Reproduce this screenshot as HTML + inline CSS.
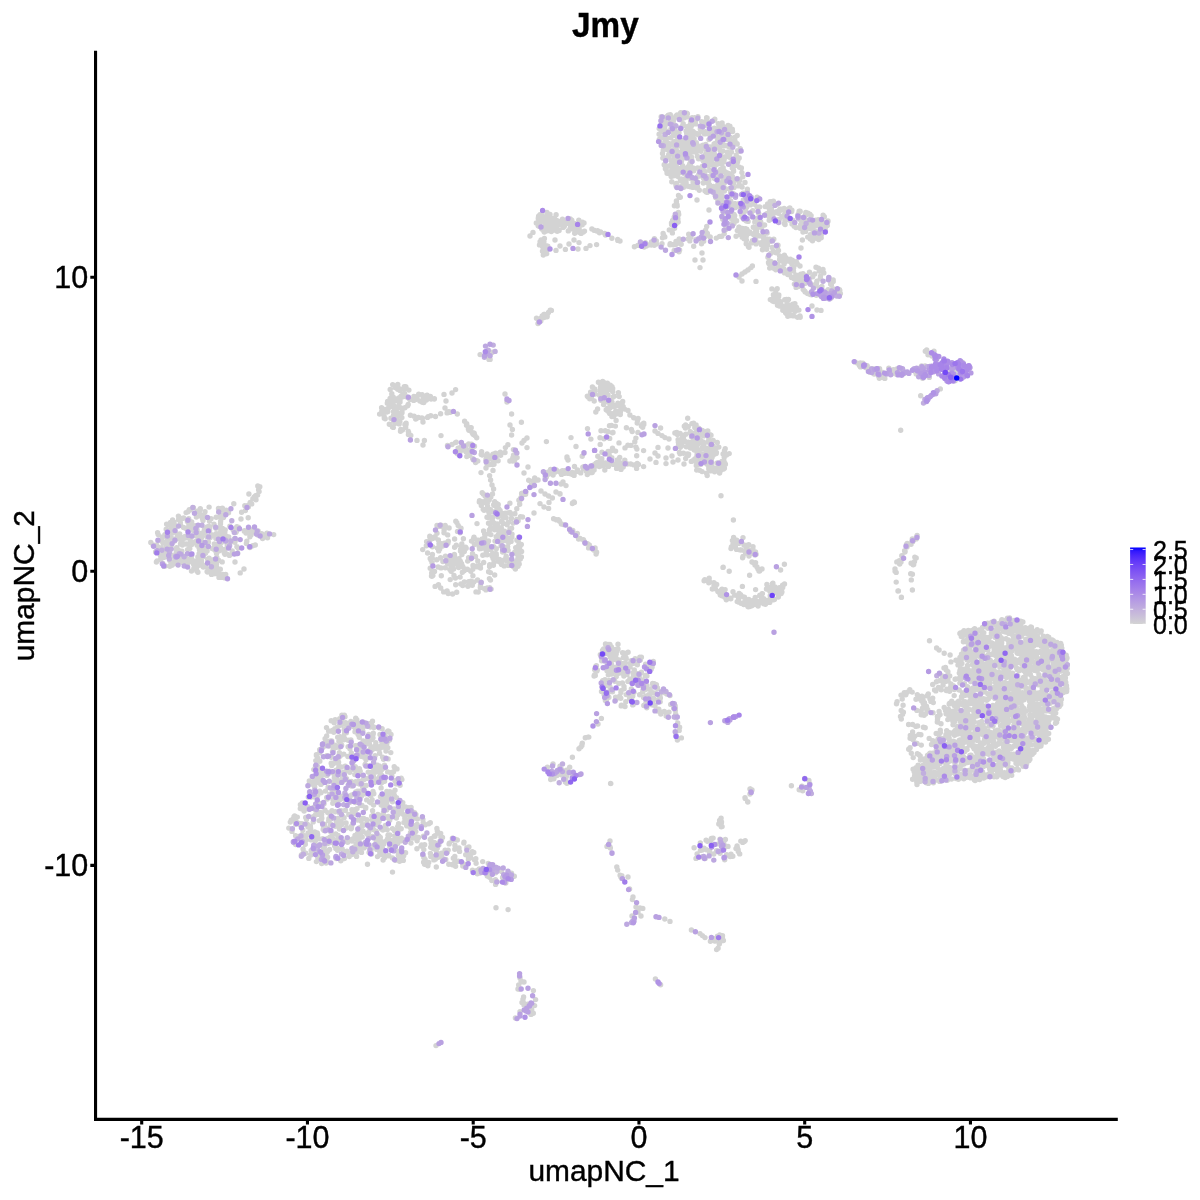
<!DOCTYPE html>
<html><head><meta charset="utf-8"><title>Jmy</title>
<style>html,body{margin:0;padding:0;background:#fff}svg{display:block}text{font-family:"Liberation Sans",sans-serif;fill:#000;stroke:#000;stroke-width:.4px}</style>
</head><body>
<svg width="1200" height="1200" viewBox="0 0 1200 1200">
<rect width="1200" height="1200" fill="#fff"/>
<g fill="none" stroke-width="5.40" stroke-linecap="round">
<path d="M1024.3 729.8h0M448.2 593.5h0M696.3 465.5h0M322.8 845.8h0M679.9 447.1h0M1023.5 695.9h0M205.4 550.7h0M398 831.1h0M397.7 826.6h0M438.4 539.9h0M810.1 238.3h0M963.4 759.5h0M725.3 156.7h0M337.7 737.2h0M461.1 449.1h0M707.4 841.3h0M205 549.1h0M1013.9 758.1h0M220.3 569.2h0M401.2 778.1h0M621.3 666.1h0M968.3 630.4h0M920.9 734.7h0M705.8 144.5h0M496 907.7h0M348.1 746.7h0M907 546.9h0M591.9 228.9h0M664.9 165.6h0M611.3 388.6h0M587.5 543.8h0M359.3 828h0M347.7 842.3h0M873.6 369h0M679 251.8h0M932.6 753.1h0M714.1 143.9h0M372.6 810.7h0M973.5 740.3h0M910.1 747.7h0M1027 761.1h0M467.2 847.6h0M398.3 855.3h0M617.2 459.9h0M345.1 799.6h0M1047.1 651.4h0M816.4 283.4h0M711.8 465.4h0M479.2 546.5h0M691.3 167.5h0M974.2 678h0M472.8 852.8h0M948.6 373.5h0M171.4 555.3h0M714 584.9h0M1001.7 640.9h0M430.7 847.2h0M359.4 774.4h0M1017.6 728.4h0M179.5 539.1h0M434.4 398.7h0M519 553.1h0M1025.1 652.7h0M424.2 399.2h0M700.1 146.3h0M1017.8 722.8h0M943.5 761.4h0M686.7 133.5h0M1014 734.2h0M389.7 820.2h0M485.8 547.1h0M517.3 560.8h0M994.9 633.3h0M982.2 712.5h0M721.1 465.7h0M791.9 210.2h0M321.4 768.9h0M1047.5 675h0M387.8 747.7h0M704.5 462.3h0M1000.3 735.2h0M724.6 180h0M935.8 757.5h0M789 269.9h0M975.8 668.2h0M722.1 162.8h0M180.3 518.9h0M564.5 225.6h0M1047.6 637.9h0M449.4 843.1h0M407.2 814.5h0M960.3 760.4h0M343.2 781.1h0M612.7 388.5h0M816.3 295.2h0M674.8 173.4h0M1040.1 732.5h0M811.6 225.4h0M484.6 533.8h0M1037.2 660.1h0M734.8 165.8h0M991.4 747.4h0M733 544.2h0M464 447.5h0M492.4 352.3h0M1058.6 688.6h0M925.2 727.7h0M341.7 745.1h0M740.6 203.6h0M665 437.6h0M697.4 444.7h0M374.6 847.4h0M810.1 223.8h0M372.2 826h0M1038.9 674.7h0M991 654.5h0M902.6 714.2h0M1046.9 648.3h0M929.2 774.4h0M1058.5 666.8h0M546 230h0M987 638.4h0M360.2 728.2h0M399.2 423.9h0M1036.7 743.7h0M1028.6 660.4h0M1058.6 650.4h0M767.8 215.5h0M437.4 548h0M1015.9 707.1h0M748.1 221.4h0M466.9 425.1h0M899.7 564.1h0M974.4 711.6h0M954.2 695.6h0M383.1 745.3h0M330.9 831.9h0M736 848.6h0M507.9 444.7h0M993.9 630.4h0M980.3 663.3h0M163.4 564.4h0M421.7 845h0M993.5 690.8h0M1003.2 649h0M1016.5 687.1h0M955 765.6h0M311.6 784h0M1035.4 729.2h0M710.2 236.9h0M457 561.4h0M295.6 835.7h0M716.4 452.4h0M723.1 126.4h0M450.2 579.6h0M212.9 567.5h0M899.6 561h0M361.5 852.4h0M632 916h0M974.7 657.1h0M740.1 549.9h0M665.1 132.2h0M203.1 556.8h0M362.8 730.9h0M608 395h0M916.2 558h0M386.3 794.8h0M815.6 285.4h0M504.2 565.9h0M965.3 738.4h0M400.4 413.4h0M730.1 856.6h0M790.7 315.6h0M1064.4 689.3h0M1020.9 622.8h0M359.6 724.6h0M721.3 184.2h0M624.7 653.2h0M379.2 746.7h0M963.6 631.7h0M840.4 293.6h0M394.1 809h0M1026.4 751.4h0M713.2 455.3h0M961.3 668.8h0M585.8 543.5h0M979.3 697.3h0M215.9 528.3h0M594.2 401h0M1016.3 769.1h0M249.1 529.7h0M1022.1 750.9h0M723.2 201.6h0M572.4 757.2h0M699.1 857.2h0M979.1 708.1h0M247.4 506h0M197.4 564.1h0M586.1 471.1h0M501.6 521.5h0M1010.8 678h0M561.3 222.5h0M489.1 513h0M748.1 245.3h0M664.4 157.7h0M766.9 584.5h0M531.7 1010h0M189.3 509.7h0M773.1 214.1h0M1055.5 723.3h0M769.9 591.2h0M1036.5 710.6h0M401.1 802.8h0M435.1 586.4h0M674.2 250.5h0M354.4 783.7h0M428.4 397.4h0M913.2 564.8h0M937.7 743.6h0M292 831.4h0M607 846.4h0M452.7 560.5h0M1049 683.1h0M978.8 637.4h0M1004.9 696.3h0M1029.5 656.9h0M1010.9 740.2h0M940.6 774.7h0M912.4 574.2h0M837.3 292.7h0M373.8 793.7h0M1016.2 640.7h0M460.1 532.8h0M1042.3 688.3h0M744.3 841.4h0M689.3 148h0M717.3 442.5h0M504.5 531.2h0M675.2 159.2h0M1022.1 657.7h0M170.7 532.4h0M1043.4 691.1h0M804.8 291.3h0M970.7 640.1h0M824.1 231.1h0M963.4 756.7h0M733.3 183.2h0M487.6 506h0M634.1 692.2h0M677 146.5h0M697.7 450.8h0M445 408h0M708.9 147.1h0M969.8 773h0M1025.2 632h0M1026 744.1h0M472.8 433.8h0M538.2 225.7h0M470.4 428.5h0M1046.5 683.3h0M562.1 472.5h0M986.3 712.1h0M456.7 592.3h0M214 563.1h0M606.4 700.2h0M556.8 224.8h0M405.7 386.6h0M489 359.4h0M512.7 461.1h0M355.6 721.5h0M711.4 442.3h0M158.2 534.6h0M1037.4 637.6h0M607.3 663.5h0M456.8 522.6h0M1005.5 649.3h0M961.9 726.8h0M544 507h0M192.1 560.2h0M723.2 138h0M1048.4 723.6h0M720.7 153.6h0M183.6 517.9h0M383 747.1h0M700 267.6h0M1053.1 708.6h0M720.3 595h0M761.2 600.7h0M246.8 541.2h0M958.1 705.6h0M865.4 366.3h0M203.6 547.1h0M691.5 436.7h0M963.1 632.5h0M373.9 727.5h0M999.5 762h0M1001.3 766.1h0M1007.4 712.3h0M936.3 750.3h0M421.9 417.9h0M686.3 145.3h0M677.5 146.1h0M676 241.5h0M314.6 808.9h0M1005.4 758.6h0M365.3 793.5h0M199.9 515.2h0M472.3 585.2h0M356.5 848.6h0M1033.9 652.1h0M1008.5 749.5h0M570.1 229.1h0M994.3 696.6h0M326.9 775.4h0M698.8 133.7h0M954.2 715.9h0M772.3 593.2h0M1024.4 738.4h0M257.8 534.8h0M521.4 556.9h0M604.1 694.4h0M997.4 732h0M766.5 589h0M927.3 765.7h0M711.5 136.4h0M716.7 163.6h0M611.5 425.4h0M1016.3 691.3h0M680.6 154.4h0M690.3 150.7h0M1006.8 745.6h0M1063.5 656.2h0M791.7 211.5h0M668.7 154.7h0M1031.9 700h0M1004.4 731.2h0M523 999.2h0M1004.4 699.8h0M1025.7 757h0M662 243.8h0M705.6 230.3h0M1052.9 661.5h0M781.9 591.9h0M1030.8 643.1h0M700.2 239.2h0M418.4 417.4h0M369.6 802.1h0M711.8 135.6h0M703.7 434.5h0M972.6 688.3h0M1023.5 665.1h0M666.8 171.1h0M578.8 220.2h0M1042.8 697.5h0M953.3 365.1h0M668.1 147.1h0M1005.1 626h0M360.6 805.2h0M545.2 226.4h0M652.6 683.4h0M1034 752.5h0M714 120.2h0M978.1 756.8h0M334.5 776.6h0M773.7 599.8h0M989.1 712.9h0M394.8 423.6h0M651.3 664.3h0M384 795.8h0M385.2 418.7h0M1033.7 690.9h0M693.2 178.4h0M450.4 412.3h0M588.6 547.9h0M860.4 363h0M970.8 692.1h0M696.3 144.7h0M313.8 848.7h0M1022.7 679.3h0M780.6 570h0M1061.1 671.1h0M220.2 532.1h0M996.8 767.4h0M295.7 824.3h0M482.9 869.4h0M944 364.8h0M610.3 646.4h0M411.6 815.9h0M658.3 699.7h0M1034.9 709.5h0M1043.8 697h0M755 565h0M1034.1 695.3h0M724.9 463.3h0M505.8 883h0M582 744.1h0M352.7 813.1h0M225.2 530h0M1015.5 700.3h0M721.9 191.8h0M344.1 817.8h0M1032.1 677.8h0M670.7 704.4h0M862.4 364.9h0M163.6 553.4h0M717.9 200.3h0M1040.8 735.6h0M687.2 453.9h0M305.8 853.2h0M383 852.9h0M394.2 766.7h0M683.7 117.5h0M934.6 690h0M929.2 738.4h0M325.6 843.7h0M963.5 651.2h0M599.9 390.7h0M693.6 423.1h0M414.1 416.3h0M1052.1 655.5h0M189.9 561.4h0M1055.7 713h0M195 568.3h0M327.6 857.2h0M742.2 217.2h0M1013.6 770.2h0M803 232h0M1042.4 660h0M506.7 875h0M769.7 602.4h0M490.5 580.1h0M687 176.6h0M978.7 729.9h0M199 555.8h0M1029.3 659.1h0M692.5 139.6h0M353 759.8h0M1051.6 641.5h0M943.1 685h0M705.7 461.9h0M340.3 755.7h0M687.3 153.6h0M241 519h0M970.4 691.8h0M725.1 589.6h0M632.8 680.3h0M593.2 548.6h0M207.5 572h0M519.2 564h0M589.7 398.7h0M996.3 678.4h0M662 435.6h0M1043.7 725.1h0M706.6 152.4h0M760.4 222.1h0M1027.5 634.1h0M339.4 754.5h0M320.9 857.8h0M816 267.2h0M564.2 470.8h0M521.4 422.2h0M983.4 698.6h0M534 513h0M977.4 653.9h0M557 775.6h0M700.6 453.7h0M309.5 792.5h0M216.1 533.6h0M1005.1 740.1h0M785.1 224.5h0M344.7 775.9h0M969.7 368.1h0M652.6 662.5h0M477.8 561h0M633.5 675.3h0M681.5 161.3h0M496.5 525.7h0M716.3 132.3h0M1026.5 725h0M381.6 407.7h0M438.2 547.6h0M372 738.9h0M621.9 877.6h0M624 686.4h0M378.3 817h0M827.3 225.4h0M1012.7 659.1h0M810.2 223.4h0M394.3 795.2h0M517.1 457.6h0M1050.3 703.3h0M920.4 781.1h0M676.4 202h0M944 680.4h0M227.8 536.9h0M373 791.4h0M614.1 396.3h0M759.5 603.1h0M944.3 773.7h0M814.7 273.9h0M681.9 151.5h0M723.4 144.4h0M977.6 737.5h0M890.6 372.7h0M752.4 600.6h0M786 257.6h0M984.4 750.9h0M321.5 855.8h0M1027.8 761.1h0M416.5 418.4h0M784.1 309.3h0M328.6 731h0M167.7 537.5h0M365.6 726h0M913.4 540.4h0M1024.6 758.9h0M801.4 276h0M391.8 393.8h0M655 453h0M999.3 644.7h0M974.8 779.6h0M693.9 184.8h0M432.9 575.6h0M653.6 698.4h0M619.2 396.6h0M956.3 707.6h0M497.4 455h0M773.6 251.5h0M997.6 645.5h0M977.3 638.8h0M682.9 171.8h0M943.1 768.8h0M373.8 829.8h0M511.9 537.3h0M971.3 740.6h0M1018.1 702.9h0M1018 711.8h0M709.6 581.7h0M435 836.2h0M1007.2 711.6h0M724.8 593.6h0M734.3 217.5h0M974.3 709.1h0M1046.5 640.4h0M956.7 776h0M645.2 687.9h0M661.1 131.9h0M342.4 815.9h0M928.3 693.9h0M927 760.2h0M796.6 307.4h0M458.6 449.7h0M411 809.4h0M616.3 463.5h0M627.9 681.4h0M436.8 559.8h0M324.3 743.2h0M604.7 387.2h0M487.1 453.9h0M379.3 766h0M491.9 521.5h0M457.5 453.7h0M1044.7 670.8h0M913.7 564.4h0M615.2 658.8h0M770.4 212.4h0M784.1 208.4h0M677.1 140.9h0M988.8 754.3h0M546.8 475h0M920.4 760h0M996.6 715h0M431 560h0M732.7 178h0M995.4 736.5h0M930.8 763.1h0M447.3 852.3h0M476.1 863.2h0M424.7 844.8h0M820 226.7h0M355.2 725.6h0M1056.8 696.9h0M218.6 560.3h0M687.4 113.8h0M399.1 856.4h0M999 682.2h0M457.3 414h0M1015.4 756.4h0M986 776.4h0M366.7 740.7h0M973.8 638.9h0M714.7 941.1h0M341.7 720.9h0M674.9 163.8h0M965 701.8h0M671.8 181.8h0M333 799.4h0M760.8 221.9h0M1007.9 774h0M981.7 660.2h0M977.4 750.8h0M208.7 526.2h0M1029.4 724.9h0M937.5 754.7h0M424.6 864.2h0M1008.6 737.4h0M309.3 781h0M419.9 401.1h0M694.8 146.7h0M484.1 871.3h0M361 833.4h0M390.9 418.3h0M1040.6 728.4h0M611.4 646.9h0M499.5 559.4h0M358.1 845.7h0M482.7 502.4h0M929.3 377.4h0M339.7 820.9h0M974.9 728.8h0M833.7 295.1h0M665.5 135.7h0M411.1 807.5h0M891.4 372h0M949.1 759.6h0M925.5 714h0M1018.4 683.5h0M1054.7 643.3h0M300.3 808.6h0M533.3 480.8h0M488.8 533.7h0M1028.2 692.5h0M188.4 531.3h0M441.5 840.6h0M175.7 563h0M660.5 126.8h0M337.2 774.1h0M988 628.2h0M691.2 149.9h0M720.4 176.4h0M544.4 238.5h0M382.4 412.8h0M765.7 601.3h0M669.9 153.5h0M550.2 310.2h0M208.5 542.1h0M1020.7 650.6h0M545.7 477.2h0M1037 714.4h0M964 764.1h0M810.1 282.9h0M704.5 460h0M1028.8 724.7h0M494 464.2h0M614.9 681.3h0M964.6 669.3h0M483.5 494.3h0M678.3 442h0M397 415h0M717.4 197.3h0M910.7 573.8h0M458.9 567.1h0M547.4 228.3h0M664.3 711.4h0M642.7 692.1h0M833.2 279.9h0M659.1 134.3h0M956.1 778.6h0M708.6 150.3h0M607.4 383.1h0M688.5 166.5h0M451.1 571.3h0M778.6 300.6h0M688.9 186.4h0M361.6 818.5h0M461.6 563.6h0M1029.6 636.5h0M996.8 721.7h0M1001.9 619.7h0M651.4 245h0M937.4 743.3h0M995 637.2h0M1010.5 641.5h0M1006.7 707.9h0M194 561.9h0M681.1 186.5h0M1045.1 649h0M945.6 756.3h0M174 522.2h0M981 754.2h0M623.4 657.5h0M641.4 244.9h0M631.2 660.8h0M785.9 307.6h0M487.2 588h0M341.8 796.2h0M956.4 749.2h0M772.5 267.5h0M948 680.2h0M219.2 542.3h0M601.8 399.7h0M691.6 146.5h0M1028.1 628.9h0M968.6 770.4h0M690.5 140h0M719.3 944h0M781.9 216.7h0M538.6 216.1h0M379.1 821.4h0M821.2 235.2h0M1037.7 679.1h0M708.8 187.8h0M696.1 239.5h0M462.7 585.5h0M811.1 215.6h0M922.2 775.8h0M552.4 498h0M559.9 222.8h0M627.4 464h0M216.5 553.5h0M518.1 520.8h0M647 685.4h0M225.7 574.5h0M1025.7 762.7h0M823.1 215.2h0M754.2 604.5h0M746.8 229.2h0M1013.4 684h0M501.6 871.4h0M366 759.7h0M518.5 549.7h0M963.6 726.8h0M229.4 555.4h0M492.3 554.4h0M719.3 188.5h0M715.3 156.3h0M1024.1 708.7h0M682.3 168.8h0M955.1 366.3h0M194.2 542.3h0M667.3 713.8h0M699 435.7h0M759 571h0M937.5 719.4h0M929.3 766.3h0M985.9 685.9h0M1005.5 716.3h0M733.9 158.9h0M729 216.1h0M1052 655.2h0M1031.3 744.7h0M953.2 754.5h0M774.9 212.8h0M1052.2 639.9h0M812.6 222.5h0M992 670.2h0M966.7 678.3h0M327.2 861.5h0M967.1 749.6h0M561.5 769.5h0M1019.1 692.3h0M571 437.6h0M235.5 540.1h0M978.4 771h0M540 214.8h0M503.5 517.9h0M1058.6 643.5h0M1034.2 704h0M769.6 239.2h0M412.3 834.5h0M972.2 638.2h0M1057.5 681.3h0M158.7 548.4h0M197.8 563.5h0M349 800.9h0M543.3 255.1h0M211.6 570h0M950.6 687h0M1035 714.9h0M1024.1 760.1h0M370.7 748.5h0M690.1 167.2h0M1002.1 731.9h0M735 164.7h0M1059 658.2h0M377.9 814.5h0M590 245.6h0M1010.1 660.1h0M663.2 150.3h0M805.4 214.8h0M556.3 470h0M715 143.5h0M968 724.9h0M907.2 543.5h0M1020.8 730.6h0M742.8 176.7h0M1054.5 686.2h0M314 807.1h0M933.7 777.5h0M177.2 534.1h0M972.2 689.4h0M1019.8 622.4h0M398.6 823.7h0M350.9 739.9h0M379 749.2h0M423.1 397h0M495.5 879.8h0M489.6 877.2h0M579.7 232.4h0M469 450h0M1059.9 688.4h0M748.7 544.8h0M325.1 738.8h0M1038.1 684.8h0M710.3 163h0M1031.6 685.2h0M1063.1 676.5h0M447.1 412.9h0M721.4 823.1h0M992.4 696.8h0M704 122.2h0M681.1 439.9h0M778.3 213.3h0M343.7 841.6h0M996.6 696.8h0M310.6 832.5h0M596.6 552.3h0M490.6 480h0M615.7 411.3h0M712.3 589h0M1012.7 693.5h0M785.6 312.8h0M733.4 520h0M733.3 223.3h0M1030.2 663.3h0M387.7 771.9h0M761.6 596.2h0M976.4 671.6h0M566.5 770.2h0M384.7 799.2h0M1006.4 677.6h0M674 149.9h0M901.4 597.2h0M719.8 147h0M758.2 197.9h0M745.7 230.1h0M516.7 519.5h0M386.5 742.4h0M385.5 737h0M988 714.9h0M604.2 382.7h0M470.8 571.3h0M1030 631.4h0M1046.6 658.3h0M444.2 529h0M428.7 862.5h0M1017.8 635.2h0M677.1 205h0M1020.6 720.2h0M803 273.6h0M999.9 760.4h0M150.8 542.5h0M976.2 673.5h0M745.5 211h0M957 706.1h0M689.5 239.1h0M1016.6 744.1h0M571 437.6h0M327.7 851.6h0M694.6 148.2h0M491.4 874.7h0M1028.1 757.1h0M999.3 774.2h0M341.7 796.6h0M997.5 769.3h0M357.4 848.9h0M441 435.6h0M356.2 755.9h0M721.5 822h0M819.2 231.7h0M959.2 690h0M968.6 657.6h0M777.8 264.8h0M1025 753.4h0M310.6 797.2h0M671.9 176.3h0M707.4 164.9h0M953.9 711h0M637.6 673.8h0M729 146.8h0M725.4 464.2h0M704.9 190.7h0M338.8 774.3h0M1058.9 657.6h0M751.4 242.9h0M762.8 243.8h0M940.9 758.1h0M609.2 680.4h0M950.9 661.9h0M908.6 724.5h0M395.1 413.4h0M716.3 238.1h0M971.8 653.7h0M666.1 137.2h0M682.6 181.6h0M979.6 683.5h0M1045.6 742h0M702.6 442.2h0M179.7 534h0M625.8 657.2h0M991.2 675.2h0M989.3 735.5h0M1002 705h0M302.3 803h0M963.9 776.6h0M707.1 118h0M155.8 551.7h0M221.6 531.2h0M798.2 283h0M703.7 454.5h0M680.3 447.3h0M739.6 231.2h0M507.2 874.2h0M911.1 544.3h0M694.2 144.2h0M1051.4 677.9h0M167.9 556.7h0M701.5 243.7h0M672 169.9h0M963.1 675.2h0M730.8 142.7h0M605.2 695.9h0M371.6 748.3h0M737.2 601.6h0M607.7 693.8h0M400.8 416.3h0M375.1 755.7h0M488.3 863.5h0M381.4 770.1h0M495.4 526h0M337.3 770.8h0M1018.5 769.9h0M710.4 188.3h0M170.4 537.2h0M710.8 461.6h0M668.8 157h0M946.6 757.2h0M1016.9 625h0M605.5 235h0M993.9 630.4h0M628.1 652.3h0M432.4 554.5h0M731.2 195.4h0M388.8 839.1h0M1007.7 761h0M1041.5 693.9h0M1033.6 667.5h0M978.7 775.2h0M782.8 310.3h0M1009.2 774.1h0M468.1 854.5h0M681.7 442.6h0M795.9 227.5h0M1033.5 646.2h0M664.8 919h0M977 755.5h0M380.5 769.7h0M963.9 711.1h0M667.2 143.5h0M917.3 753.7h0M176.2 552.7h0M914.7 736.3h0M703.1 169.5h0M830.7 290.8h0M1011.8 686.8h0M670.5 144.2h0M400 400.2h0M594.7 674.6h0M674.3 128.8h0M989.6 637.3h0M964.3 723.7h0M708.3 133.9h0M711.4 465.6h0M1009.2 720.8h0M522 1002.4h0M800.2 211.6h0M955.8 742.1h0M984.4 764h0M1058 695.2h0M946.9 765.7h0M372.1 820.1h0M602.7 381.4h0M725.3 210.3h0M677.1 169.8h0M1030.2 710.3h0M505.4 876.8h0M673.2 175.5h0M500.5 512.2h0M464.3 551.5h0M1036.9 668.6h0M496.3 548.7h0M654.5 693.1h0M397.8 783.9h0M817.3 224.3h0M777.5 247.1h0M974.6 714.7h0M1007.4 776.4h0M1056.3 718.5h0M355.7 781.8h0M382.4 848.3h0M1038.7 716.8h0M994.2 649.2h0M336 770.3h0M642.8 908.4h0M315.8 814.1h0M1034.5 638.2h0M482.2 492.7h0M693 448.3h0M1007.8 763.2h0M1047.2 654.8h0M976.4 674.7h0M1008.8 656.1h0M913.6 738.1h0M1020.6 749.8h0M971.5 696.4h0M1023.6 695.6h0M663 144h0M615.6 697.1h0M168.6 531.1h0M683.2 144.7h0M990.6 763.3h0M504.3 513.5h0M318.9 814.4h0M963.9 640.6h0M703.8 166.2h0M561 221.6h0M970.2 644.9h0M159.5 540.1h0M219.3 550.7h0M438.7 550.9h0M674.2 158h0M938.2 761.8h0M990.4 714.1h0M1026.6 763.7h0M198.4 556.6h0M428.9 823.8h0M969.6 655.2h0M597.3 669.9h0M403.3 860.4h0M1029.1 645.5h0M727.5 139.4h0M920.4 371.9h0M240.2 572.9h0M978.8 649.1h0M522 443h0M321.5 815.9h0M267.5 537.7h0M598.6 464.9h0M709.2 578.2h0M408.9 807.8h0M415.7 419h0M783.8 262.6h0M619.1 660h0M966.5 734h0M602.5 650.4h0M609.7 438.4h0M837.9 294.2h0M659.2 128.6h0M1032.8 643.8h0M377.3 770.3h0M449.1 563h0M695.8 435h0M636 447.1h0M836.5 290.3h0M960.5 721.8h0M700.2 429.5h0M682.9 125h0M995.4 746.2h0M612.1 405h0M1027.5 639.7h0M654.4 238.6h0M604.7 233.4h0M492.5 494h0M753.5 234.6h0M724.4 468.2h0M357.5 731.5h0M941.3 365.2h0M990.5 771.2h0M321.8 818.2h0M484.3 871.2h0M438.1 833h0M363.8 818.4h0M690.6 165.4h0M969.9 755.5h0M355.5 745.6h0M998.9 689.4h0M936.9 758.3h0M188.7 518.8h0M981.7 669.8h0M696.7 470.1h0M810.3 234.7h0M386.5 840.6h0M319.8 838.9h0M673.5 172.4h0M736.6 549.4h0M616.1 405.4h0M913.2 563.9h0M1026.6 749.5h0M623.2 467h0M1066.6 691.6h0M1030.8 626.9h0M236.9 526.6h0M609.2 455h0M1003 735.6h0M170.5 522.5h0M917.5 776.2h0M959.2 732.9h0M618.4 465h0M990.1 706.6h0M694.9 443.1h0M1020 710.3h0M994.3 769.6h0M309.3 784.1h0M205.5 553.3h0M417.1 840.8h0M512.4 429.4h0M699.1 459.4h0M917.3 769.1h0M817.4 294.2h0M724.5 450.6h0M1003.3 673.9h0M538.4 217.6h0M991.9 630.2h0M761.4 598.6h0M455.7 584.8h0M964.5 683.6h0M911.3 753.2h0M344.4 715.2h0M481.3 505.6h0M998.7 731.8h0M484.3 588.6h0M182.7 560h0M795.2 311.2h0M618 648.9h0M338.9 741.3h0M726.3 454.3h0M370.5 727.1h0M155.6 551.9h0M933 712.8h0M423.8 849.6h0M322.6 783h0M869.9 370.5h0M1039.8 711h0M468.4 428.9h0M946.2 670.1h0M968.8 709.1h0M1020.6 659h0M1024 649.2h0M743.4 199.9h0M1030.9 736.3h0M718.8 824h0M782.6 585.2h0M1027.8 747.2h0M1011.4 736h0M343.8 772.2h0M691 135.7h0M563.1 227.4h0M1008.6 661.3h0M948.7 712.4h0M805.8 226.6h0M784.5 308.4h0M1042.4 669.2h0M816.9 281.2h0M1055.3 661.8h0M685.8 434.3h0M493.6 489h0M976.2 702.6h0M717.5 936.1h0M370.2 774.1h0M393.6 405.7h0M266.9 533.2h0M947.3 780.2h0M347.9 756.5h0M367.9 834.7h0M687 116.9h0M872.1 368.7h0M971.9 641h0M731 548.6h0M216.8 557.4h0M489.6 566.5h0M837.4 293h0M987.8 693.7h0M1006.4 657.3h0M997.9 692.3h0M171.9 565.2h0M732.6 131.6h0M962.9 362.6h0M975.1 776h0M988.5 738.3h0M1059.2 647.7h0M774.6 268.8h0M960.3 657.6h0M981.8 750.4h0M930 699.1h0M678.2 222h0M480.3 565.5h0M756.1 241.2h0M966.1 690.9h0M1022.9 729h0M489.4 529.9h0M441 525.2h0M961.8 697.6h0M220.4 547.1h0M938.5 687.5h0M1021.1 750.7h0M561.4 473.8h0M166.9 535.2h0M610.2 407.7h0M1012.6 673.1h0M408.9 390.1h0M478.9 873h0M500.1 510.4h0M389.2 793.8h0M452.6 566.3h0M314.8 831.9h0M1020.1 740.4h0M605.5 643.9h0M720.3 157.7h0M551.5 221.5h0M686.3 446.7h0M542.2 316h0M1021.8 653.2h0M680.3 128.3h0M684.1 435.1h0M356.8 719.7h0M696 118.1h0M1020.3 687h0M376.8 849.4h0M675.9 717.8h0M715.3 941h0M964 630.8h0M320 844.6h0M1034.6 722.5h0M390.1 398.5h0M934 351.3h0M799.7 219.3h0M396.6 813.4h0M1020.7 720.2h0M986.6 774.9h0M343.8 754.1h0M713.2 174h0M992.9 705.5h0M999.3 625.8h0M674.3 135.3h0M544.7 473h0M453.3 561.1h0M994.8 676.1h0M946.8 766.8h0M1043.3 657.2h0M940.1 740.6h0M1023.5 670.5h0M737.3 162.5h0M1018.3 689h0M317.3 832.9h0M1061 664.6h0M1030.5 699.7h0M979.3 749.9h0M563 482h0M1001 644.1h0M1012.6 732.3h0M1023.6 743h0M441 567.9h0M610 847h0M333.8 732.3h0M463.8 843.1h0M456.3 545.2h0M748.5 246.8h0M1012.2 629.8h0M381.4 775h0M235.8 532.4h0M961.8 751.4h0M697.4 449.1h0M402.7 814.1h0M1007.1 713.9h0M705.3 180h0M896.6 369.5h0M1037 679.5h0M475.8 858.7h0M674.9 433h0M430.3 822.7h0M722.3 134.3h0M1036.1 743.7h0M547.9 229h0M337 825.6h0M327.5 741.3h0M642.7 427.3h0M202.6 554.4h0M382.7 841.9h0M371.5 854h0M989.8 675.3h0M978 735.2h0M1064.9 681.7h0M610.6 463.8h0M999.3 752.5h0M487.6 354.6h0M369.4 743.7h0M440.7 588h0M921.6 770.6h0M357.5 729.1h0M333 730.3h0M374 727.1h0M727.4 152.2h0M574.9 225.6h0M987.1 709.8h0M673.5 224.5h0M634 464.9h0M690.7 133.5h0M1035.4 732.1h0M935.2 779.2h0M724.4 145.8h0M362.3 743.7h0M707.3 176.4h0M174.6 541h0M719.6 473.1h0M730.6 192.5h0M673.9 228.2h0M633 897h0M937 774h0M722.2 126.7h0M612 386.7h0M562.1 224.6h0M790.4 308.6h0M684 464h0M259.1 491.6h0M376.9 816.8h0M631.8 700h0M965.4 695.2h0M918.1 765.2h0M901 695.1h0M664.7 127h0M635.9 438.1h0M555.5 230.2h0M770.3 219.6h0M498.1 460.7h0M946.3 763.5h0M763.5 237.7h0M831.4 284.7h0M690.1 169.6h0M922.4 697.2h0M471.5 541.1h0M1003.3 649.3h0M971.7 632.2h0M388 835.2h0M723.1 453.9h0M678.9 172.1h0M796.1 287.4h0M1024.1 724.4h0M745.9 199h0M920.2 756h0M445.1 850.2h0M462.6 863.4h0M335 794.3h0M461.8 543.9h0M965.3 716.1h0M538.3 218.6h0M1022.9 667.2h0M946.1 676.1h0M750.5 233.1h0M759.6 207h0M1026.6 641.5h0M813.6 235.9h0M1040.3 644.3h0M214.3 543.9h0M415.3 836.2h0M1033 723.3h0M331.3 757.3h0M994.1 651.7h0M653.3 661.5h0M432.6 856.4h0M998.8 685.7h0M598.4 382.2h0M1044.8 692.1h0M371 850.6h0M159.7 548.3h0M1054.7 648.6h0M438.5 584.7h0M327.7 812.6h0M812.5 240.7h0M755 554.2h0M993.6 736.6h0M1015.3 727.4h0M297.3 817.1h0M407 825.9h0M393.7 793.9h0M608.3 674.8h0M507 402h0M712.6 131.5h0M1041.2 682.8h0M1056 645.7h0M610.1 404.7h0M997.3 730.1h0M608.1 644.4h0M328.8 820.5h0M1037.7 717.2h0M979.1 689.9h0M1022.2 632.4h0M977.9 774h0M593.7 550.1h0M153.1 545h0M932.7 698.1h0M697.2 440.6h0M377.4 765.3h0M732.3 167.9h0M1019.7 680.4h0M314.5 834.9h0M817.1 238.6h0M974.6 659.1h0M1058.8 662.8h0M474 433.3h0M724 131.7h0M702 434.2h0M670.2 243.8h0M733.5 169.8h0M714.6 471.7h0M1045.7 647.4h0M704.2 147.9h0M1003.9 739h0M560 223.5h0M678.4 133h0M985 708.3h0M262.6 538.5h0M933.4 767.1h0M555 240h0M591.4 397.8h0M724 210.4h0M1064 677.7h0M1042.1 716.8h0M487.7 545.4h0M504.3 515.2h0M319.7 749.7h0M1013 623.6h0M257.8 486h0M320.3 812.4h0M402 412.8h0M1042.6 661.9h0M1004 687.1h0M373.9 845.2h0M997.5 711.1h0M1020.5 697.7h0M435.5 416.5h0M460.9 584h0M346.1 822.9h0M1003.9 670.4h0M1048.1 682.7h0M698.4 455.3h0M1038.4 692.9h0M821.9 286.5h0M413 838h0M958.4 377.4h0M957.4 706.8h0M1050.1 711.2h0M976 663h0M721.7 159.8h0M507.8 541.5h0M474.4 544.4h0M306.5 819.2h0M1008.8 693.6h0M808 213.1h0M962.5 715.6h0M733.6 166.4h0M375.8 742.8h0M954.4 771.2h0M770.9 261.4h0M604 438.8h0M538.1 480h0M449.1 528h0M1035.4 715.8h0M306.3 839.9h0M388.3 816.4h0M987.6 665.9h0M459 558.7h0M349 723.6h0M982.3 728.5h0M394.4 830.5h0M954.3 689.5h0M719.5 128.4h0M359 791.2h0M805.2 292h0M338.1 835.4h0M169.8 560.4h0M1013.3 623.8h0M1054.7 652.1h0M536.3 223h0M678.9 117.4h0M781.2 593.5h0M338.8 769.9h0M611.9 416.6h0M181.9 554.4h0M639.9 244.9h0M1063.5 659.9h0M606.7 651.5h0M473.8 581.9h0M641.4 657.2h0M698.3 134.8h0M747.4 189.3h0M382.7 805.2h0M660.4 697.9h0M498.3 516.9h0M545.3 223.8h0M994.9 698.4h0M740.6 234.7h0M348.1 740.3h0M1026.5 726.4h0M1053.4 677.9h0M626.2 694.6h0M742.1 187.1h0M989.9 693.6h0M320.9 784.4h0M481.9 501.8h0M361.5 791.9h0M1038.5 744.9h0M516.9 560.4h0M993.6 621.4h0M1057.9 667.9h0M584 223h0M730.6 145h0M722.3 182.1h0M971.1 632.8h0M949.8 773.7h0M336.2 796.2h0M372.6 836.4h0M226.7 553.9h0M325 810.2h0M374.4 769.4h0M611.9 238.2h0M201.8 536.6h0M564 772.8h0M216.2 573.5h0M634.4 246.8h0M339.9 781.3h0M680.3 197.2h0M754.8 221.9h0M693.5 141.7h0M690.9 237.2h0M764.6 225h0M709.6 850.9h0M1022.8 709h0M1016.1 745.3h0M637.9 432.4h0M930.1 776.4h0M908.7 749.3h0M643.6 450.6h0M982.9 688.5h0M746.8 604.8h0M566 485.6h0M185.2 564.5h0M426.6 541.6h0M800.8 277.2h0M1016.5 668h0M625.3 671.8h0M963.2 720.3h0M960.8 725.6h0M991.1 761h0M907.2 692.2h0M993.1 746.1h0M629.8 679h0M731.5 152.1h0M1054.7 695.5h0M1062.7 663.8h0M356.1 849.1h0M1036.4 655.3h0M514.7 567h0M1030.6 695.9h0M399 402.9h0M546.9 250.1h0M627.1 674.3h0M645.9 697.9h0M944.7 777.4h0M205 511.8h0M741 603.2h0M691.9 423.6h0M1058.8 662.1h0M822.1 226.2h0M406.1 424.2h0M476.7 437.7h0M249.8 530.2h0M1028.8 755.5h0M332.8 790.9h0M917.7 777.7h0M572.5 776.7h0M1039.9 715.3h0M785.7 218.8h0M964.8 654.7h0M380.5 796.8h0M979.6 779.5h0M814.8 221.4h0M207.1 551.1h0M1005.2 777.6h0M1017.3 759.9h0M717.9 591.5h0M381.7 829.2h0M1005 626.8h0M810.7 235.8h0M992.8 713.2h0M938.1 372.6h0M675.3 710.4h0M352.6 854.3h0M675.9 165h0M556.8 220.5h0M376.9 838.9h0M1053.6 718h0M943.4 777.7h0M695.6 123.9h0M729.7 157.2h0M600.6 466.1h0M383.4 812.5h0M470.9 581.3h0M698.5 158.8h0M1006.2 690.2h0M592.9 467.2h0M801.9 786.3h0M737.1 846h0M411 843.1h0M952.6 756.6h0M493 454.3h0M313.2 821.9h0M328.7 820.8h0M943.9 778.8h0M546.2 476.4h0M549.4 473h0M724.2 233.6h0M1032.7 693.4h0M487.8 496.8h0M596.1 463.3h0M496 868.8h0M363.1 831.3h0M715.2 195.4h0M968 771.6h0M1052.1 657.1h0M480.1 354.6h0M1036.2 638.1h0M746 550h0M225.1 540.7h0M968.4 709.9h0M974.2 717.3h0M1017.5 635.3h0M445.5 556.3h0M430.3 839.5h0M544.3 232h0M349.3 856.5h0M931.1 767.2h0M1061.6 670.4h0M1012.8 627.4h0M314.6 778.4h0M1043.1 687.8h0M977.3 740.6h0M945.5 757.7h0M686.9 113.2h0M681.8 445.4h0M992.8 736.1h0M690.7 121.5h0M1004.9 730.7h0M713.5 448.9h0M501.3 527.8h0M1037.1 636.3h0M1016.4 707.4h0M670.3 114.6h0M998.1 631h0M978 726.8h0M715.4 155.7h0M1025.8 641.2h0M343.3 841.8h0M973.5 662.4h0M1003.4 702.4h0M720.1 160.9h0M441.3 526.4h0M397.7 843.4h0M944.2 707.4h0M776.4 211.6h0M781.4 210.1h0M318.1 802.7h0M554.1 218.2h0M951 751.5h0M191.3 558h0M516.8 508.7h0M381.8 742h0M929.4 762.1h0M976.9 670.8h0M721.4 590h0M444.1 530.3h0M784.3 223.6h0M1033.9 631.5h0M334.3 839.8h0M460.1 577.1h0M594.6 392h0M688.6 454.3h0M942.7 745.8h0M617.7 239.5h0M344.4 858.5h0M755.3 238.4h0M1013.7 686.8h0M982.3 652.2h0M627.6 669.1h0M1039.1 717.3h0M1065.8 682.4h0M978.7 764.2h0M519.7 547.4h0M710.6 465.5h0M776.8 295.8h0M493.4 458.7h0M926.3 779.5h0M1013.8 754.2h0M396.5 407.1h0M971.2 762.4h0M737.2 135.4h0M1067.4 673.4h0M1037.6 709.6h0M771 253.2h0M615 654.7h0M1007.7 663.1h0M703 447.6h0M972.1 678.1h0M693.8 179.2h0M993.5 630.9h0M988.4 647.2h0M934.3 755.7h0M165.4 552h0M983.1 759.1h0M539 226.3h0M493.2 457.6h0M511.6 528.2h0M782.9 209.1h0M825.3 229h0M980.7 683.1h0M974.6 634.4h0M321.7 863.6h0M1029.2 722.4h0M236.9 546.7h0M633.1 704.7h0M1034.2 705.8h0M382.6 757.1h0M640.1 659.7h0M200.5 534.7h0M773.8 301.5h0M1038.3 697.3h0M639.9 657.1h0M649.4 665.2h0M1021.1 649.5h0M924.8 761.1h0M198 537.5h0M962.4 763.2h0M949.7 703.2h0M1005.3 648h0M685.3 145h0M1016.5 739.8h0M496.3 456.5h0M360.5 751.6h0M176.2 539.1h0M685.6 424.9h0M791.9 264.1h0M528 467h0M346.3 840.6h0M982.5 699.2h0M351.9 801.4h0M1036.3 703.8h0M758 218.1h0M757.8 221.3h0M777.6 304.9h0M661.2 116.7h0M758.2 235.5h0M546.7 253.7h0M976.8 709h0M610.5 388.9h0M722.5 935.8h0M984.7 741.4h0M653.2 700.2h0M164.8 556.2h0M982.2 700.7h0M738.2 159.3h0M761.4 244.8h0M676.9 133.4h0M785.7 300.2h0M899.2 369.8h0M688.2 239h0M947.4 375.4h0M1017.3 669.7h0M789.3 269.4h0M327.7 828.2h0M709.7 170.4h0M724.2 187.5h0M362.7 787h0M964 676.2h0M600.4 387.8h0M434.4 842.4h0M757.1 197.2h0M700 933.6h0M1035.8 637.6h0M388.6 401.2h0M1015.6 664.8h0M808.8 280h0M479.2 868.9h0M925 758.6h0M492 485h0M370.7 802.7h0M633.7 417.7h0M1014.1 690.8h0M743.2 215.2h0M699.3 174.9h0M637.4 664.8h0M1048.7 719.5h0M408.2 431.1h0M1006.5 709.6h0M813.7 237.7h0M572.2 472.4h0M937.1 744.8h0M550.2 222.1h0M380.8 781.4h0M188.1 562.8h0M492.4 464.5h0M1024.6 680.8h0M1011.9 767.9h0M365.1 764.4h0M546.5 222.8h0M440.6 557.7h0M1015.9 630.8h0M924.7 775h0M545.2 477.1h0M916.2 538.9h0M778.9 220.5h0M303.1 848.9h0M997.9 686.5h0M740.6 594.7h0M642.9 690.5h0M574.1 475.4h0M997.7 640.2h0M1036.8 747.3h0M854.7 361.9h0M311.9 817.1h0M962.2 777.9h0M953.3 756.1h0M259.8 486.8h0M695.1 444.3h0M495.6 884.4h0M458.4 454.1h0M453.3 858.3h0M491.6 517.5h0M904.3 692.6h0M969.1 732.1h0M352.7 764.3h0M191.6 555.7h0M1024.9 758.5h0M363.6 722.2h0M186 557.7h0M1046.2 658.3h0M819.2 271.1h0M488.6 571.7h0M1003.3 709.9h0M556.6 773.2h0M610.1 687.2h0M211 518.7h0M732.5 206h0M751.1 550.6h0M978.5 766.1h0M517 520.1h0M976.1 643.6h0M966.2 632.5h0M954.6 735.2h0M435.7 843.4h0M1036.9 670.9h0M361.4 796h0M596.6 244.6h0M329.6 813.4h0M718.9 171.4h0M987.4 648.8h0M780.3 260.6h0M688.5 147.2h0M818.7 293.4h0M675.2 706h0M969.7 650.4h0M1044.4 698.2h0M544 317.5h0M749.7 232h0M473.8 852.4h0M1004.5 753.2h0M199.1 553.7h0M658 456h0M778.7 302.6h0M1059.3 706.4h0M1060.7 643.5h0M1004.4 682.6h0M684.8 441.2h0M246 533.1h0M966.7 710.1h0M712.1 447.9h0M385.4 825.4h0M1025.9 667.9h0M1048.4 739.2h0M588.5 471.1h0M972.4 738.7h0M301.4 855h0M719 939.6h0M981.8 760.8h0M679.2 730.4h0M1001.7 697.5h0M959.8 750.5h0M725.6 137.3h0M882.1 372.2h0M946.3 681.2h0M751.2 199.6h0M505 394h0M513.5 455.3h0M1013.1 736.8h0M200.2 548.6h0M942.4 777.8h0M622.7 401.4h0M410.8 435.4h0M367.6 743.8h0M621.2 705.9h0M1025.5 729h0M666.2 716h0M627.9 445.3h0M1001.5 622.5h0M178.4 516.1h0M713.9 582.8h0M696 133.4h0M172.6 562.9h0M628 877h0M606.8 685.4h0M204.1 515.5h0M770.7 241.2h0M912.6 541h0M618 404.8h0M349.5 802.4h0M983.7 778.1h0M739.5 167.3h0M781.1 588.3h0M981.9 651.4h0M1002.2 653.8h0M1049.1 720.1h0M875.7 371h0M949.2 772.4h0M798.9 280.3h0M988.2 676.7h0M694 151.7h0M936.2 733.5h0M713.1 838.1h0M683.5 453.2h0M496.2 867.5h0M974 713.1h0M1056.8 690.2h0M357.4 722.7h0M613.2 397h0M981.7 721.4h0M1020.2 703.3h0M607.8 653.7h0M191.7 544.5h0M689.4 169.4h0M462.7 566.5h0M179 554.3h0M957 766.9h0M742 274h0M963.4 641.8h0M184.1 557.1h0M906.6 546.4h0M547.3 224.3h0M917.1 535.5h0M745 182.4h0M478.2 592h0M1023 758.8h0M1000.1 716.9h0M646.2 704.6h0M674.7 117.6h0M1003.5 762h0M721.4 126.6h0M503.3 523.4h0M618 673.6h0M390.6 772.8h0M734 214.5h0M1045.5 727.9h0M901.3 719h0M1026.9 652.6h0M989.9 773.9h0M624.8 460.1h0M188.9 538.1h0M997.6 654.6h0M158.4 550.8h0M971.9 659.6h0M191.7 522h0M964.8 730.4h0M700.6 126.7h0M1029.5 742.3h0M695.7 179.6h0M758.1 606h0M722.3 139.2h0M302.5 809.2h0M912.6 724.5h0M988.6 741.5h0M989.8 683h0M980.8 733.8h0M709.5 184.7h0M549.8 220.2h0M183.6 527.5h0M964 774.8h0M540 503.6h0M967.5 686.7h0M966.7 772.3h0M1011.2 732h0M1007.3 740.2h0M1043.9 731.1h0M737.1 143.8h0M932.7 370.5h0M984.8 684.4h0M800.2 317.2h0M823.8 272.9h0M321.7 814.1h0M639.6 685.2h0M999.9 650.3h0M610.4 848h0M1037 720.6h0M665 137.2h0M1007.8 755h0M384.3 418.2h0M1030.8 726h0M494.4 523.2h0M316.4 754.8h0M904.2 373.5h0M976.3 761.4h0M490.5 549.1h0M572.6 503h0M245.4 510.6h0M1007.7 775.4h0M1007.8 688.8h0M991.1 732.7h0M977 716h0M703.6 178.2h0M559.1 771h0M1044.2 700.2h0M578.2 230.1h0M706.7 156h0M996.1 766.9h0M994 645.9h0M453.6 569h0M204.4 529.4h0M1034.4 731.7h0M979.8 705.8h0M295.6 821.7h0M168.7 551.6h0M723 567.4h0M780.6 570h0M1009.6 617.9h0M938.1 752.5h0M599.5 232.7h0M244.3 531.2h0M183.2 518.2h0M577.3 533.5h0M357.2 848.7h0M388.6 740.4h0M1022.3 692.6h0M713.8 854h0M751 267.6h0M993 676.7h0M1044.6 723.1h0M954.1 754.8h0M970.4 703.6h0M935.6 392.6h0M664.5 137.4h0M959.9 759.7h0M980.8 657.6h0M679.2 171.1h0M1017.4 764.1h0M996.7 712.3h0M540.8 321h0M200.4 556.8h0M738.9 596.6h0M704.1 848.1h0M1056.4 686.5h0M983.4 734.9h0M701.9 175.9h0M489.9 464.2h0M759.9 595.1h0M802.7 790.8h0M343.6 716.2h0M731.5 162.4h0M472.8 569.3h0M200.2 545.5h0M608.8 691.9h0M962.8 775.3h0M958.5 751.2h0M973.3 710.4h0M549.7 219h0M514.7 460.1h0M170.7 564.9h0M1059.6 687.7h0M669.1 148.2h0M376.2 831.2h0M990.6 748.6h0M381 769h0M708.3 181.7h0M991.3 715h0M999.2 628.8h0M608.1 431.7h0M748.8 233.6h0M604.2 465.3h0M461.7 450.3h0M341.1 774.4h0M748.3 602.4h0M940.3 730.2h0M1044.2 730.4h0M163 543.1h0M687.4 446.5h0M542.4 246.5h0M980.5 687.4h0M550.3 472.4h0M1017 652.4h0M367 819.7h0M983.9 669.7h0M530 236h0M401.4 803.8h0M664.8 236.9h0M1004.5 761.1h0M369.9 750h0M478.2 540.1h0M921.7 774.9h0M755.2 597.5h0M341.1 821.6h0M466.7 423.6h0M797.2 263.8h0M962.5 711.9h0M723.9 843.8h0M986.8 675.8h0M943.3 750.6h0M570.1 228.6h0M572.8 530.4h0M362.8 824.8h0M733 186.6h0M431.5 576h0M432.4 546.8h0M230 555h0M943.4 738.4h0M364.3 785.6h0M387 412.1h0M978.8 715.4h0M182.2 540.2h0M732.4 540.6h0M673.6 707.9h0M376.6 769.7h0M423.8 857.4h0M248.3 506.9h0M967.8 642.6h0M1054.1 696h0M975.2 646h0M692.8 460.8h0M590.9 439.1h0M975.6 760.8h0M968.1 739.6h0M755.6 589.6h0M701.2 130.3h0M551 778.7h0M730.1 217.6h0M410.7 823.5h0M1028.7 697.5h0M868.6 370.4h0M548.8 772.3h0M197.3 564.5h0M313.3 781.8h0M778.3 597.1h0M1036.5 749.6h0M932.5 758.8h0M721.5 133.6h0M393.6 415h0M960.3 674.5h0M989.6 627.7h0M471.4 448.4h0M981.6 725.3h0M705.2 858.5h0M972.9 720h0M355.4 729.2h0M391.3 403.4h0M616.5 672.3h0M216.5 572.1h0M1033.8 636h0M249.8 547.6h0M1005.8 731.4h0M357.4 791.3h0M721.3 198.1h0M359.4 754.3h0M983.4 648.3h0M350.8 800.9h0M1021.4 739.3h0M686.1 182.4h0M960.2 751.8h0M994.3 677.1h0M202.4 557h0M488.5 523.2h0M494.6 529.7h0M997.3 704.1h0M156.4 562h0M950.4 757.6h0M1027.3 726.7h0M998.4 768.3h0M757.1 207h0M977.5 652.9h0M507.7 561h0M1044.9 674.4h0M956 716.3h0M989.5 672.9h0M796.3 261.8h0M1005.8 742.9h0M755.1 234.7h0M388.3 408.3h0M973.3 662.1h0M801.7 279.3h0M1040.9 746.1h0M459.6 851.4h0M981.3 755.7h0M458.1 448.1h0M407.7 405.7h0M367.2 778.4h0M973.2 734.4h0M1004.9 656.5h0M1019.6 651.3h0M335.3 811.7h0M556.5 519.9h0M983.8 632.6h0M993.3 755h0M386.9 732h0M203.3 567h0M694.1 138.7h0M570.6 473.8h0M299.2 824.3h0M1048 641.9h0M392.5 828.6h0M637.5 684.3h0M382.9 830.1h0M897.3 371.2h0M596.9 671h0M615.6 451.1h0M724 160.6h0M219.3 546.7h0M1046.1 731.2h0M703.1 441.9h0M616.8 866.9h0M1015.9 742.2h0M582.3 743.2h0M724.8 597.3h0M324.1 782.2h0M1002 762h0M711.9 939.6h0M974.6 699.9h0M332.8 791.5h0M971.6 694.7h0M1022 745.7h0M999.9 755h0M642 679.9h0M926.9 709.8h0M1015.1 648.6h0M369.1 766h0M725.5 229.7h0M704.9 236.7h0M1006.9 759.8h0M782.4 260h0M308.1 833h0M984.5 732.9h0M746.1 602.4h0M1034 724.5h0M1005.6 684.2h0M784.1 264h0M354 853.9h0M490.4 509.8h0M921.9 374.6h0M753.3 227.2h0M777.5 301.6h0M351.2 781.4h0M1042.5 654.2h0M998.1 679h0M379 727.7h0M651.8 664.2h0M992.8 672.5h0M946.7 730.6h0M706.8 123.1h0M717.8 147h0M543.6 217.5h0M981.7 664.3h0M177.7 537.8h0M207.1 571.6h0M611.6 664.7h0M161 547.7h0M692 433h0M696.4 151.9h0M427.1 395.2h0M679.2 172.9h0M379.7 776.4h0M427.9 865.8h0M326.5 727.6h0M674.4 205.8h0M980.7 636.6h0M735.9 203.9h0M936.2 366.8h0M251.7 503.9h0M488 545.6h0M732.3 129.2h0M189.8 559.9h0M1019.4 717.6h0M743 556.5h0M946.3 690.6h0M486.2 552.5h0M1037.3 704.5h0M1052.4 684.8h0M710.6 151.2h0M297.5 822.6h0M511.6 414h0M649.7 695.5h0M523.6 997h0M639.2 676.4h0M258.1 530.9h0M925.2 767.8h0M502.6 877.4h0M1001.8 648.5h0M361.1 783.3h0M1019 670.7h0M339.4 828.1h0M995.7 687.6h0M1049.7 700.3h0M759.6 571h0M673.1 133.1h0M639.3 684.1h0M813.9 293.5h0M976.3 705.3h0M1051.3 683.1h0M1067.4 665h0M723.6 469.1h0M967.6 713.8h0M1015.3 704.5h0M912.6 732h0M252.8 545.8h0M729.6 144.7h0M377.9 839.4h0M1033.5 699h0M430.2 539.5h0M694.7 460.8h0M612.5 448.2h0M223.5 536.3h0M702.1 471.6h0M610 841h0M620.1 875.3h0M1037.5 721.1h0M612 402.2h0M767.6 204h0M548.4 472h0M952.1 750.7h0M683.8 173.1h0M918.3 776.9h0M962.7 777.7h0M402.9 393.8h0M1013.5 622.3h0M1026.2 722.7h0M399.9 421.2h0M774.9 586.9h0M544.3 315.7h0M486.7 550.7h0M977 752.5h0M717.5 940.6h0M947.9 671.7h0M983.1 725.3h0M757 567h0M731 854.1h0M1017.9 746.3h0M665.3 165.1h0M735.7 159.9h0M214 524.2h0M310.8 854.9h0M212.5 566.5h0M928.9 754.5h0M859.4 365.4h0M1065.4 681.5h0M205.3 542.4h0M947.6 679h0M686.1 131h0M947.4 712.2h0M497.5 524.8h0M974.7 759.2h0M372 725.6h0M618.8 467.6h0M588 737.1h0M397.9 831.2h0M1020.9 645.8h0M321.7 804.4h0M685.9 172h0M459.9 450.3h0M980 769.2h0M220.9 509.8h0M450.9 566.1h0M884.8 378.4h0M984 646.9h0M916.4 772.9h0M1012.2 664.9h0M443.7 591.9h0M678.6 444.5h0M1062.8 668.1h0M1023.2 684h0M503.6 535h0M696.3 432.1h0M818.7 239.5h0M392.5 858h0M755 554.9h0M1030.3 674.4h0M911.1 563.2h0M722.1 826.6h0M358.5 851.5h0M448.3 541.3h0M308.5 808.6h0M645.3 689.5h0M939.1 650h0M674.2 141.7h0M172.6 520h0M1008.5 767.1h0M367 742.8h0M431.8 538.7h0M366.7 799.9h0M1025.3 695.5h0M874.4 372.4h0M643.6 466.6h0M1011.3 695.6h0M188.6 523h0M424.5 399.5h0M694.3 450h0M672.4 232.9h0M561.5 474.4h0M978.4 746.5h0M527 447.6h0M1032.5 643.6h0M1031.3 654h0M472.6 447.6h0M688.4 442.1h0M958 664.9h0M1007.5 705.3h0M983.5 766.6h0M436.9 828.5h0M650 459h0M968.9 673.8h0M938 739.3h0M548.5 227.3h0M1019.9 759.3h0M789.1 220.1h0M396.5 797.6h0M1054.4 678.6h0M373.4 776h0M980.1 662.5h0M597.8 456.3h0M601 430.7h0M317.7 834.6h0M1029.5 664.5h0M762.1 593.6h0M987.4 763.2h0M804.7 778.5h0M962.9 735.2h0M547.2 315.9h0M1045.5 716.9h0M334.3 777.8h0M1059.3 689.3h0M738.7 598.8h0M767 600.8h0M1006.4 702.9h0M675 130.9h0M964.7 751.2h0M613.3 464.4h0M538.6 321.4h0M730.1 147.2h0M207.6 559.1h0M567 458h0M793.6 315.9h0M1030.6 695.5h0M454.8 849.3h0M733.9 223.4h0M722.7 849.7h0M606.9 410.2h0M1004.4 724.8h0M1037.9 664.8h0M676.8 432.4h0M718.2 189.2h0M372.3 778.7h0M961.8 719.4h0M985.4 687.7h0M200.3 508.8h0M731.4 547h0M998 744.2h0M933.4 782.8h0M229.2 543.8h0M950.4 759.1h0M977.1 688.5h0M632.2 431.6h0M955.9 369.6h0M731.8 223.6h0M393.6 421h0M316.5 813.3h0M1046.2 710.9h0M617.3 462.7h0M746.3 236.3h0M1008.4 771.3h0M1038.9 667.9h0M495.7 872.8h0M319.2 852.5h0M944.2 750.2h0M706.1 840.3h0M349.1 839.4h0M666.2 712.9h0M402.6 860h0M1023.9 654.3h0M350.7 855h0M380.1 773.9h0M455.8 521.2h0M702.2 166.5h0M1060.3 704.5h0M993 726h0M1026.3 673h0M673.5 142.7h0M983.5 758.8h0M770.4 595.6h0M925.1 366h0M608 402.1h0M1008 698.7h0M460.7 562.4h0M711 451.3h0M1035.1 678.6h0M916.6 776.3h0M1021.2 660.7h0M1014.1 626.7h0M943.4 751h0M487.7 502.1h0M472.3 851.8h0M729.2 131.7h0M958 742.9h0M1026.7 659.6h0M1057.4 676.8h0M199.4 511.2h0M955.6 768.4h0M595 394.1h0M683.2 123.7h0M937.4 716.5h0M775.8 269.7h0M728.1 125.5h0M252.9 498.6h0M500.7 455.3h0M507.2 561.2h0M1048.8 720.2h0M398.4 398.3h0M680.1 433.5h0M976.9 638.9h0M966.6 673h0M743.8 602.7h0M1008.2 676.7h0M1002.7 684.8h0M988.1 747.8h0M957.1 708.6h0M972.7 657.1h0M1011.1 702.7h0M916.9 710.4h0M1023.1 766.3h0M897.1 701.6h0M916 699.2h0M720.6 820.4h0M162.4 537h0M976.8 687.3h0M337.7 818.5h0M1004.6 662.9h0M372.5 721.3h0M786.5 299.4h0M680.7 112.6h0M741.9 172.6h0M981.5 670.7h0M455.6 389.6h0M737.2 144h0M509.9 529.5h0M539.7 319h0M956.4 369.5h0M777.5 305.2h0M688.2 455.4h0M170.5 541.3h0M960.7 740h0M992.3 691.3h0M329.4 745.9h0M1021 628h0M723.6 592.1h0M410 824h0M779.6 256h0M1054 643.6h0M435.5 846.7h0M1060.2 677.7h0M709.1 126.3h0M986.7 627h0M209.8 571.4h0M718.1 948.2h0M736.1 236.3h0M212.7 574.1h0M666 463.6h0M991.5 770.6h0M491.8 880.6h0M473.7 538.3h0M722.3 132.9h0M383.2 817.7h0M611.8 450.6h0M404.9 407.7h0M444 394.4h0M722.7 196.4h0M634.3 670h0M703.2 459.4h0M680.3 179.4h0M476.5 870.7h0M995.7 671.7h0M545.7 231.2h0M1049.7 651.8h0M356.8 768.9h0M831 290h0M331.3 817.5h0M974.1 698h0M741.4 167.9h0M1050.8 687h0M765.4 604.2h0M541.2 216.8h0M531.7 486.3h0M978 645.8h0M699.4 176.1h0M415.9 814.4h0M375.9 819.1h0M574 240h0M614.9 669.4h0M388.8 855.7h0M359.1 841.2h0M991.3 773.2h0M478 542.4h0M603.6 649h0M934.7 358.7h0M345.2 810.5h0M944.2 653.2h0M1040.1 652h0M397.7 389.3h0M403.9 807.1h0M616.1 667.2h0M433.9 859.9h0M703 260h0M515.4 1018h0M173.4 529.8h0M734.8 179.6h0M402.4 429.9h0M989.3 774h0M351.9 795h0M431.2 843.3h0M459 848h0M605.6 659.6h0M645.6 696.6h0M933.6 759.5h0M1011.3 646.1h0M351.6 826.2h0M156.6 545h0M912.6 779.2h0M336.3 840.6h0M580 538.5h0M719.1 463.5h0M1001.3 665.3h0M957.7 715h0M1027.8 738.1h0M690 175.2h0M460.3 561.3h0M1046.4 723.1h0M1024.4 628.7h0M772.4 583.6h0M633.1 663.4h0M334.2 722.7h0M465.6 547.2h0M994 776.7h0M404 822.4h0M548.6 496h0M199.1 565.3h0M953 369.6h0M989 748.7h0M949.1 737.8h0M972.1 721.2h0M518.6 537.2h0M216.9 567.8h0M616.6 413.3h0M225.2 511.5h0M347.3 851.8h0M990.4 686.9h0M1004.3 750.4h0M432.5 538.4h0M983 692.1h0M994.8 756.5h0M538 323.6h0M434.5 571.4h0M660.6 984.8h0M508.8 512.7h0M1020.2 651.6h0M957.2 752.5h0M954.8 721.4h0M625.3 666.6h0M805.4 220.3h0M1009.2 666.2h0M1019.6 669.2h0M1021.6 738.4h0M476.9 566.7h0M381.9 782.4h0M1042.1 715h0M1030 637.2h0M786.6 313.7h0M926.7 350h0M388.1 758.9h0M293.1 818.9h0M1043.1 703.4h0M931.5 744.5h0M336.3 821.3h0M1055.5 707.6h0M940.8 740.5h0M249.3 546.9h0M705.2 131.8h0M309.7 783.7h0M509.9 512.4h0M1033.5 657h0M967.2 741.9h0M1039.5 746.3h0M717.7 178.3h0M988.2 731.1h0M1009.6 746.4h0M542.5 251.2h0M250.2 502.5h0M733.6 171.3h0M707.2 461.8h0M924.7 773.4h0M691.6 444.3h0M898 591h0M568.3 230.9h0M970.7 681.6h0M603.6 404.6h0M1041 662.6h0M506.2 556.3h0M1042.1 700.1h0M618.1 411.4h0M475.5 556.5h0M447.7 534.9h0M971 696.5h0M1045.3 680.5h0M1052.8 716.4h0M940.8 747.9h0M1018.9 713.3h0M681.4 179h0M399.4 388.7h0M1043.6 719.6h0M997.3 706.2h0M997.4 684.2h0M414.6 812.8h0M252.5 529.6h0M416 826.9h0M720.6 155.5h0M638 912h0M1065.2 678.7h0M224 530.9h0M415.8 397.9h0M1007.1 650.4h0M693.1 136.8h0M511.6 414h0M798.9 310.1h0M404.2 822.5h0M766.9 238.9h0M410.5 832.5h0M447.1 591h0M1029.7 640.6h0M990.2 740.5h0M353.9 847.3h0M1043.3 651.5h0M726.1 175h0M1016.7 701.6h0M685.8 147.4h0M489.7 464.5h0M984.8 675.7h0M993.4 744.8h0M553.9 778.7h0M805.6 231.4h0M521.7 981.7h0M946.2 750.1h0M955.6 730.3h0M237.1 553.4h0M708.2 436.3h0M219.7 541.3h0M1029.3 725h0M737.3 230.6h0M1053.4 664.4h0M740.2 148.6h0M360.9 744.3h0M693.7 179.4h0M191.5 571h0M489.2 500h0M340.8 860.8h0M371.4 772.1h0M710.1 434.7h0M556.1 214.7h0M554.5 775.3h0M196.4 517h0M984.3 691.7h0M1001.1 691.4h0M1005.7 682.9h0M1029.3 663.3h0M600 437.7h0M720.9 463.4h0M984.2 765.3h0M582.2 456.3h0M1058.5 652.6h0M1042.9 652.7h0M700.4 850.4h0M717.1 137.6h0M1015.5 695.7h0M991.9 694.4h0M439 543.6h0M1066.8 688.8h0M560 766.3h0M569 244h0M561.9 774.9h0M975 642h0M994.5 745.9h0M690.4 160.2h0M750.8 553.8h0M712.7 445.7h0M711.8 154.2h0M960.4 669.1h0M921.6 766.5h0M1058 662.2h0M1016.5 759.8h0M470.6 427.8h0M503.8 536.7h0M541.1 239.9h0M789.1 208.4h0M1017.7 626.4h0M1029.7 691.6h0M408.4 434.6h0M993.8 624h0M728.8 197.6h0M551.4 310.4h0M975.8 749.7h0M482.2 539h0M471.2 427.7h0M1044.9 699.9h0M786.8 304.8h0M350 800h0M609.9 644.5h0M196.6 569.5h0M1009.7 694.6h0M789.4 261.2h0M1016.1 693h0M901.4 597.4h0M410.1 807.6h0M1000.2 703.2h0M833.7 289h0M359.3 737.3h0M341.4 766.9h0M696 858.4h0M556.7 519.7h0M611.3 459h0M180.5 544h0M238.2 547.9h0M405.7 427.3h0M1024.7 750h0M1019.4 732.5h0M505.9 557.5h0M745.6 546.3h0M552.1 472h0M315.3 840.9h0M1041.1 697h0M311 854.6h0M794.9 303.8h0M993.9 758h0M756.3 235.8h0M549.3 215h0M417 440.4h0M202.6 518.9h0M998.6 732.9h0M1013.5 626.8h0M999.1 705.9h0M885.8 374.1h0M790.4 259.1h0M1002.2 639h0M913.2 757.6h0M752.9 549h0M504.6 536h0M435.1 537.7h0M745 797.6h0M726.9 145.4h0M646.5 695.9h0M727.5 598h0M400.1 785.2h0M322.3 772.3h0M894.2 371.3h0M534.7 477.9h0M680.2 127.6h0M970 658.2h0M1030.8 754.9h0M601 384.7h0M519.7 504.2h0M458.2 525.5h0M739 185h0M536.5 318.2h0M253.6 531.9h0M1061.4 699.3h0M752 562h0M452 444.5h0M719.1 126.6h0M402.3 852.2h0M361.4 728.3h0M948.9 716h0M964.3 670.7h0M763.7 603.7h0M1059.3 696.8h0M667.8 149.7h0M741 550h0M742.2 237.3h0M505.9 875.8h0M1066.4 688.6h0M597.2 462.4h0M903.1 705.3h0M1029.5 719.3h0M600.7 463.6h0M1021.4 661h0M771.2 217.7h0M735.5 541.8h0M1045.5 693.4h0M641.4 426.1h0M392.7 384.6h0M1032.7 693.5h0M967.3 727.6h0M998.4 758.9h0M999.7 762.3h0M784.8 299.6h0M784.2 263.4h0M723.8 162h0M331.2 763.3h0M472.5 870.2h0M672 456h0M696.7 437.2h0M341 797.9h0M709.6 853.6h0M353.5 819.4h0M505.4 447.6h0M1044.6 708h0M682.6 440.7h0M693.7 246.2h0M955.2 714.5h0M436.4 844.4h0M352.6 769.4h0M988.6 682.9h0M1029.6 642.1h0M244.8 505.8h0M1000.3 624.4h0M810.2 294.6h0M1007.4 705.1h0M357.7 833.2h0M724.2 457.3h0M688.6 170.2h0M989.7 769.1h0M1005.5 719.5h0M922.4 777.8h0M651.6 704.7h0M1031.8 707.2h0M620.9 663.6h0M682.4 113.2h0M999.6 635.8h0M599.6 395.3h0M169.6 541.7h0M1012.5 714.7h0M1056.4 671.9h0M993.2 765.1h0M572.1 228.8h0M204.6 532.2h0M785.9 216.7h0M709 210h0M817.5 235.9h0M935.8 774.9h0M920.7 395.7h0M687.1 151h0M956.3 776.5h0M976 759.4h0M706.8 464.1h0M1025.1 672.1h0M1051.9 668.1h0M923.3 703.8h0M951.7 747.3h0M946.9 774.3h0M675.2 125.5h0M561 225h0M581.1 233.4h0M324.3 847.5h0M176.5 526.3h0M486 468h0M560 494h0M703.9 445.7h0M912.4 590h0M928 354.7h0M434.3 399h0M305.3 844.3h0M435.5 849.5h0M611 399.9h0M1008.5 631.9h0M1053.6 676.9h0M701.4 146.6h0M587.3 474.6h0M1043.3 665h0M1058.3 663.3h0M756.6 231.5h0M219.4 546.1h0M467.4 569.3h0M822.3 221.7h0M188.5 527h0M325.3 774.2h0M169.8 566.3h0M1016 763.2h0M341.2 810.6h0M999 633.8h0M337.2 848.3h0M1039.4 682.6h0M468.9 847h0M1045.2 717.2h0M360.2 771.1h0M204.9 552.6h0M169.9 549.6h0M993.3 644.3h0M552.5 227.3h0M998 646.5h0M821.4 233.1h0M574.7 233.3h0M1025.9 680.2h0M319.2 820.6h0M651.2 669.2h0M167.3 539.6h0M199.8 515.7h0M717.2 159.7h0M682.2 140.8h0M914.2 771.7h0M990.4 670h0M339.7 718.7h0M493 456.1h0M717.4 467.8h0M588.1 397.1h0M319.6 752.9h0M963.5 650.1h0M364.4 742.6h0M400.5 431.3h0M617.9 403.1h0M339.5 829.1h0M469.6 455.2h0M685.5 149.3h0M548.1 230.5h0M718.8 447.1h0M912.3 538.9h0M199.2 541.7h0M773.4 201.3h0M431.9 576.2h0M677.2 206.1h0M977.2 640.8h0M1055.9 653.3h0M618.4 392.8h0M977.5 680.7h0M991.6 622.4h0M389.9 791.8h0M1063 659.8h0M942.9 755.1h0M955.1 730.9h0M997.1 696.9h0M962.6 692.9h0M552.8 225.4h0M481.1 548.6h0M916.1 767.8h0M756 243.9h0M692.9 187.4h0M381.2 805.1h0M520.5 516.7h0M739 277h0M656.5 243.9h0M470.5 857.2h0M175.6 559.8h0M954.1 733.4h0M808.6 280.3h0M494.7 575h0M691.6 157.2h0M620.8 698.2h0M609.8 655.3h0M921.3 770.4h0M489.1 459.1h0M655 431h0M363.8 779.7h0M798.1 214.5h0M771.5 209.5h0M685.1 186.3h0M727.1 129.6h0M724.7 859.8h0M1008.1 632.4h0M724.4 191h0M913.3 369.5h0M608.7 464.3h0M384.2 416.7h0M754.9 232.9h0M384.5 765.1h0M406.7 825.7h0M961 774.5h0M1034.4 662.6h0M998.9 672.3h0M677.7 241.8h0M708.6 152.5h0M527 438h0M998.6 719.4h0M937.1 746.9h0M1005.1 776.1h0M158.3 547.1h0M1047.8 659.9h0M929.5 782.1h0M607.9 645.2h0M707.5 132h0M348.8 814.4h0M680 142.1h0M1025.3 732h0M707.1 192.4h0M738.1 849.8h0M1032.2 650.5h0M564.2 226.4h0M295.7 844.6h0M973.7 669.8h0M977.9 765h0M782.8 586.3h0M994.1 675.2h0M697.4 182.7h0M409.6 838.1h0M1025.9 710.9h0M522.5 517h0M425.1 859.5h0M799.9 315.9h0M763.5 234.9h0M410.7 810.3h0M559.1 230.5h0M222.5 528.5h0M171.4 545.1h0M560.9 224.2h0M445.3 567.7h0M207.1 536.7h0M733.8 181.5h0M172.6 538.7h0M1066.2 671.8h0M941 723.8h0M613.4 652.6h0M901 562.1h0M940.2 755.6h0M996 694.9h0M984.2 670.3h0M744.5 597.3h0M673.6 175.7h0M576 446.4h0M314.7 787.1h0M979.3 764.4h0M602.2 394h0M645.4 242.6h0M480 873h0M379.1 838.5h0M386.5 803.7h0M1008 759.9h0M780.3 267.1h0M644.7 688.3h0M497.2 541h0M547 768.3h0M629.9 696.7h0M619.7 457.4h0M163.9 557.2h0M1006.9 665h0M256.1 495.4h0M692.5 441.7h0M953.3 743.6h0M1030.2 702.6h0M390.4 846.2h0M792 224.1h0M1055.4 660.5h0M644.2 247.1h0M1037.7 644.5h0M1006.8 775.9h0M979.9 629.8h0M670.3 119.6h0M662.8 158.1h0M1056.7 656.9h0M328.1 787.3h0M924.9 767.6h0M693.3 140.1h0M522.4 493.1h0M193.5 564.1h0M1007.1 651.4h0M819.8 226.1h0M688.7 443.8h0M359.1 838.5h0M1016.1 712.2h0M1024.3 653.9h0M980.9 649.6h0M564 221.9h0M1042.2 696.8h0M511.4 518.3h0M715.5 588.7h0M609 412.3h0M983.9 643.7h0M707.9 433.1h0M222.4 508.2h0M487.8 510.4h0M982.8 641.4h0M679.9 240.8h0M1007.9 736.4h0M972 635.6h0M221.4 542.4h0M823.3 290.9h0M605.4 700.4h0M687 133h0M521.6 493.4h0M955.3 373.8h0M1014 647.4h0M693.1 435.3h0M1061 645.5h0M513.3 523.1h0M516.7 565.4h0M197.9 572.3h0M713 449.4h0M744.8 551.2h0M1045.1 664.4h0M335.8 795.7h0M1057.7 676.8h0M474.5 446.2h0M679.6 250h0M513 458h0M636.9 449.1h0M665.7 130.7h0M810.3 239.1h0M1013.1 759.1h0M1043.5 680.9h0M939.7 781.4h0M1025.7 648.2h0M331.2 720.8h0M969.6 647.8h0M733.4 520h0M533.4 990.6h0M545.3 251.4h0M670 244.5h0M440 841.1h0M514.9 513.8h0M711.1 165h0M454.8 856.4h0M1029.2 681.9h0M606.2 409.7h0M806.5 224.9h0M950.1 767.7h0M1014 643.1h0M674.8 132h0M940.9 779.2h0M1010.3 711.5h0M1008.2 723.1h0M1033.4 694.7h0M742.6 557.8h0M196.8 562.6h0M671.8 122.1h0M308.3 797.1h0M956.9 743.3h0M1021.5 634h0M413.7 400.4h0M822.3 231.8h0M1034 733.3h0M914.9 742.9h0M642.7 423.9h0M580.8 747.1h0M698.8 174.5h0M747.5 548.6h0M916.8 782.2h0M357 808.6h0M734 187.6h0M1016.8 641.3h0M209.1 558.1h0M570.8 225h0M1022.9 685.6h0M433.2 848.6h0M1018.5 652.4h0M721.5 164.2h0M550.7 779.5h0M359 781.3h0M1010.5 648.3h0M1009.8 704.8h0M769.7 268.1h0M427.5 417.4h0M965.8 770.9h0M1001.8 695.4h0M622.4 682.9h0M757.9 225h0M1048.7 683.9h0M326.7 797.5h0M984 743.2h0M679.8 115.2h0M1013.9 746.2h0M993.7 712.2h0M487.7 496.5h0M1030.6 659.6h0M762 569h0M691.7 159.6h0M778.8 294.9h0M265 535.1h0M518 566.3h0M415.6 399.5h0M617.8 240.4h0M787.8 274.5h0M429.8 537.1h0M701.1 131h0M993.6 741.2h0M958.6 701.3h0M207.1 527h0M685.5 178.4h0M556 492h0M994.5 757h0M990.3 751.4h0M475.2 871.2h0M364 793.7h0M970.1 700.4h0M1013.2 754.8h0M801.9 285.2h0M744.2 235.4h0M682.6 165.6h0M980.9 731.8h0M1053.3 649h0M794.3 225.5h0M1018.5 645h0M798.3 286.6h0M365.9 758.2h0M397.9 811.5h0M980.8 743.4h0M980.5 764.2h0M823 269.5h0M238.4 527.2h0M983.6 749.1h0M1005.9 660.6h0M568.8 772h0M748.8 599.4h0M244 569h0M986.7 673.6h0M1005.1 733.3h0M175.1 558.5h0M452 393h0M507.2 524.8h0M534.6 1005.6h0M959.4 740.2h0M936.5 758h0M479.5 500.8h0M677.5 176.2h0M386 758.2h0M967.4 634.9h0M1029.7 705.8h0M981.8 763.5h0M733.3 141.5h0M736.7 540.2h0M651.5 241.9h0M1050.8 684.6h0M1066.2 686.3h0M926.4 706.2h0M1010.9 628.4h0M997.1 752h0M572.1 531.8h0M422.7 549.6h0M422.9 819.5h0M373.6 805.1h0M572.3 224.5h0M767.9 600.1h0M673.1 244.7h0M173.4 563.9h0M1050.3 677.8h0M215 550.2h0M673 462h0M193.9 568.3h0M976.6 761.1h0M449.4 562.3h0M1053.2 666h0M359.4 768.8h0M960.1 673h0M660.8 714.1h0M1025.3 630.6h0M603.5 688.8h0M969.4 745.1h0M219 577.4h0M339.4 752.8h0M967.6 714h0M556 250.4h0M1008.8 643.4h0M452.2 864.4h0M830.6 283.9h0M334.5 762.4h0M723.9 460.8h0M674.1 227.1h0M596.8 231h0M722.5 938.5h0M722.8 171.4h0M1066.5 685.8h0M464 842.1h0M1058.6 681.7h0M749.6 575.2h0M449.9 561.7h0M623.2 406.8h0M1038.4 638.7h0M866.1 367.7h0M630.9 445.4h0M406.3 396.8h0M723.2 167.8h0M386.3 410.2h0M946.1 767h0M638.3 679.9h0M383.2 801.2h0M952.4 760.6h0M567.6 473.2h0M760.9 242.7h0M702 159.2h0M330.3 842.5h0M594.6 393.1h0M1052.9 665.7h0M715.7 197.5h0M641.5 672.2h0M525.8 491.9h0M209.1 507.1h0M903.4 712.2h0M922.8 765.5h0M676.1 244.2h0M942.4 363.3h0M455.5 442.6h0M311.2 850.4h0M1013.2 660.1h0M686.6 116.2h0M664.3 121.7h0M955.5 719.3h0M946.9 735.7h0M998.6 720.4h0M994.9 710.5h0M719.9 202.3h0M1013.4 708.8h0M773.4 294.8h0M496.6 503.4h0M732.8 218.3h0M613.6 416.3h0M662.1 120.6h0M981.7 674.5h0M713.2 189.3h0M714.3 149.3h0M681.3 168h0M885.3 373.4h0M974.8 679.4h0M741.5 214.7h0M489 455.9h0M943.7 768.3h0M692.2 117.7h0M924.5 702.6h0M507.7 546.7h0M612.5 432.8h0M351.9 809.8h0M670 244.7h0M1004.1 707.8h0M677.1 115h0M962.8 658.2h0M705 937.6h0M319.8 761.2h0M777.5 204.2h0M162.8 557.5h0M337.1 727.5h0M704.3 172.7h0M703.2 159.5h0M962 718.3h0M674 131.5h0M374.1 768.8h0M1013.5 637.3h0M180 555.8h0M989.4 739.8h0M759.7 595.4h0M923 699.5h0M496.2 536.6h0M988.5 627.2h0M971.2 770.3h0M1047.3 636.4h0M921.5 698.3h0M988.1 735h0M939.1 711.4h0M922.6 378.2h0M993.8 667.3h0M974.5 672.5h0M468.7 581.6h0M980.9 712h0M676.4 201h0M991.9 645.9h0M1004 729.7h0M1029.3 649.2h0M494.7 501.6h0M357.4 820.1h0M503.1 523.4h0M979.5 705.6h0M1030 709.3h0M705 171.5h0M1056.5 696.7h0M684.3 426.3h0M585.3 737.7h0M567 457h0M998.7 657.1h0M408.5 837.8h0M346.8 827.5h0M376.3 841.1h0M1021 702.6h0M642.9 681.3h0M1041.5 691.7h0M1011.2 729.6h0M205.7 566.4h0M729.2 173.7h0M976.5 633.7h0M678.5 446.3h0M974.1 721.8h0M1043 741.2h0M989.1 761.9h0M962.5 368.1h0M1011.4 704.5h0M972.8 720.2h0M219.9 508.8h0M315.7 782h0M583.4 232.1h0M671.8 175.3h0M461 528.3h0M378.4 842.9h0M715.7 469.4h0M317.5 774.5h0M1016.9 647.1h0M978.9 678.5h0M878.4 375.8h0M558.1 221.5h0M594.1 469.9h0M350.7 740.6h0M576.6 534.4h0M707.2 475.6h0M697.9 116.7h0M1008.2 707.6h0M1010.3 705.6h0M1009.8 631.7h0M722.1 123h0M879.6 368.8h0M981.4 687h0M492.5 521.3h0M346.2 828.1h0M978.3 678.5h0M1031.4 627.3h0M981.8 657.4h0M540.8 242.6h0M734.7 215.6h0M941.2 689.8h0M345.2 723.9h0M472.6 458.4h0M968.3 646.6h0M984.8 728.5h0M636.7 455.7h0M690.1 134.5h0M806.1 280.8h0M821 310.4h0M1014.3 643.7h0M670.3 115.6h0M949.5 732.8h0M979.7 710.4h0M974.3 763.7h0M679.2 239h0M682.1 147.5h0M1055.5 643.1h0M955.2 711.3h0M1041.3 721.9h0M669.3 229.9h0M335.2 719.6h0M1045.2 694.2h0M1030.6 641.4h0M971.3 645.1h0M714.2 153.3h0M393 840.2h0M180.3 522.4h0M677.4 740h0M1009.8 697.3h0M447.9 543.2h0M427.6 553h0M707.3 154.5h0M474 537.3h0M466.8 456.5h0M1010.4 667.5h0M377.5 856.6h0M172.1 533.3h0M773.8 239.2h0M796.5 276h0M797.6 317.2h0M1048.7 637.1h0M769.1 208.3h0M308.8 858.4h0M792.4 315.3h0M366 778.6h0M392.5 801.7h0M1063.4 692.5h0M164.1 566.4h0M940.3 388.9h0M1059 686.2h0M800.1 211.1h0M1034.6 727.3h0M723.4 940.5h0M1052.2 692.5h0M545 494h0M1008.8 670.9h0M708.7 466.6h0M1041.7 640.5h0M670.6 174.5h0M633 672.9h0M683.5 173.3h0M933.3 702.6h0M730.4 598.1h0M980.7 742.9h0M498.2 534.9h0M674.3 154.8h0M775.8 290.6h0M935.6 761.6h0M357.9 840.4h0M355.4 802.5h0M489.4 578.6h0M1053.3 661.1h0M986.2 625h0M607 670.2h0M706.5 451.8h0M535.8 480.3h0M342.5 723.1h0M315.7 836.3h0M744 545h0M752 790h0M438.1 567h0M725.8 226.5h0M248.9 494h0M960.3 376.3h0M346.4 732.7h0M787 306.7h0M580.7 472.9h0M883.9 373.8h0M432 562.5h0M733.6 537.4h0M714.5 145.7h0M412.2 819.5h0M979 752.5h0M700.4 440.4h0M315.8 760.6h0M969.3 649.7h0M248.4 505.1h0M677.4 434.6h0M473.4 434.5h0M493.3 462.8h0M365.8 807.5h0M468.4 859.3h0M390.9 406.4h0M971.1 755.3h0M388.6 795.7h0M575.4 232h0M969.6 777.6h0M381.1 787.9h0M721.7 203.6h0M616.6 468.4h0M946.7 768.8h0M430.2 568.3h0M1058 696.3h0M920.3 367.8h0M324.5 824.3h0M738.5 597.2h0M498.9 531.3h0M966.7 706.9h0M330.6 731.1h0M577.5 469.9h0M947.5 753.8h0M700 456.1h0M743.7 233.3h0M945.5 667.5h0M888.8 368.2h0M368.2 772.1h0M1029 644.9h0M974.7 690.1h0M716.7 584.5h0M972.3 725.9h0M711.2 161.8h0M982.5 699.3h0M953.2 366.8h0M792.7 220.1h0M322.3 780.4h0M608.9 697.3h0M210.1 562.3h0M326.7 736h0M818.2 219.7h0M986.7 700.2h0M373.6 765.3h0M347.5 727.8h0M546.7 221.8h0M787.7 304.7h0M1051.8 645.1h0M683.6 441.3h0M957.1 777.5h0M1053.3 663.5h0M997.8 650.3h0M1021.9 759h0M700.3 129h0M223.5 517.6h0M1053.4 650.4h0M751.3 212.7h0M229 546.2h0M986 750.6h0M990.6 716.2h0M705.7 458.4h0M713.1 135.3h0M956.1 365.9h0M510.6 562.7h0M1006.2 710.6h0M751.8 242.4h0M170 529.7h0M645.9 702.9h0M703.5 161.2h0M619.3 405.4h0M315.5 766.2h0M422.4 402.2h0M690.3 186.8h0M1034.5 637.7h0M509.4 565.1h0M229.7 543.8h0M456.2 442.3h0M1021.4 710.5h0M572.6 225.1h0M197.1 529.9h0M1051.8 697.9h0M162.5 563.2h0M379.7 854.8h0M382.9 768.4h0M722.7 219.3h0M949.6 740.2h0M714.1 938.8h0M352 758.3h0M915.7 372.3h0M224.9 554.2h0M399.8 397.5h0M225.3 535.6h0M702.4 447.6h0M954.9 753.8h0M174.9 539.2h0M955.7 730h0M410.3 827.4h0M409.4 820h0M899.3 560.8h0M446 401h0M736.6 220.7h0M553.1 475h0M1057.4 674.8h0M632.8 696.1h0M1022.8 680.2h0M581 224.3h0M374.5 746.1h0M493.4 565.3h0M1056.1 661.3h0M980.3 733.1h0M685.7 458.5h0M653.2 240.9h0M389.3 424.2h0M952.3 748.8h0M336.2 858.6h0M1019.4 752.4h0M460.5 550.9h0M1046 648.8h0M1014.2 620.5h0M790.1 310.1h0M1065.2 675.2h0M1039.4 659.9h0M677.2 434.2h0M1006.5 662.1h0M990.1 770h0M709 157.4h0M422.7 854.9h0M932 356h0M698.7 428.1h0M452.4 838.1h0M738.3 851.6h0M199 547.6h0M562.4 470.6h0M611 668.8h0M730.5 188.8h0M175 558.3h0M211.5 574.4h0M1057.2 676.2h0M721.8 128.2h0M658.8 709.2h0M757.4 604.8h0M352.9 823.3h0M717.2 462.9h0M201.5 550.3h0M306.4 835.7h0M1025.5 664h0M220.6 521.5h0M615.3 649.4h0M396.5 409.3h0M717.8 140.1h0M709.1 440.8h0M367.9 766.3h0M993.9 643.9h0M780.3 257.3h0M732.6 166.8h0M934.7 779.4h0M674.3 129.9h0M362.2 837.1h0M712.1 457.2h0M605.4 463.7h0M714.7 145.1h0M1027.4 633.8h0M965.3 758.4h0M1047.6 725.8h0M1017.6 727.8h0M969.6 702.5h0M549 502.4h0M725.4 839.4h0M1007.3 721.1h0M190.1 510h0M364.6 779h0M991 695.7h0M694.1 847.8h0M687.7 418.2h0M177.3 563.5h0M997.3 685.8h0M950.3 378.9h0M376.6 780h0M214.8 572.9h0M637.2 423h0M426.4 400h0M628 410.5h0M508.3 878.9h0M431.7 572.9h0M484.1 510.3h0M980.3 702.3h0M452.4 840.2h0M766.6 249.2h0M552.6 765.3h0M770.9 203.9h0M901.2 710.5h0M982.5 772h0M767.1 233.1h0M620 241h0M714.8 119.2h0M961.3 636.4h0M531 1014.4h0M404.4 388.8h0M376.1 748.4h0M1029.6 706.7h0M499.2 532.6h0M403.8 839.6h0M1000.8 714.6h0M718.5 940.7h0M620.4 412.1h0M976.1 638.7h0M708.8 468.8h0M1019.9 731.8h0M970.3 775.2h0M1025.4 665.9h0M364.7 847h0M487 510.1h0M976.2 751.3h0M1024.1 686.3h0M921.7 774.9h0M900.7 430.3h0M998.9 691.7h0M333.3 763.8h0M992.9 691.4h0M579.1 228.5h0M421 846.1h0M620.1 462.6h0M1049.2 638.7h0M678.2 152.3h0M962.3 742.1h0M1064.8 684h0M186.6 558.9h0M803.1 787.2h0M1063.5 653.2h0M1019.3 756.3h0M187.4 521.6h0M453.7 557.7h0M508.8 542.4h0M957.6 734.1h0M982.3 669.1h0M610.6 783.4h0M721.1 590.6h0M630 694.6h0M358.1 734.4h0M1006.6 619.8h0M1006.5 629.9h0M1007.8 647.6h0M185.1 536.5h0M660.5 711.9h0M750.4 552h0M1023.6 656.4h0M1027.6 682.3h0M961.3 710.5h0M597.6 408.9h0M1019.4 695.9h0M642.5 682.6h0M256 499.8h0M704.6 133.9h0M717.3 163h0M776.8 592.2h0M949.7 676h0M996.8 776.7h0M578.6 539h0M450.8 569.7h0M963.4 673.6h0M360.9 756.2h0M1030.9 681.1h0M1025.4 687.2h0M799.2 211.3h0M793 309.3h0M983.2 765.2h0M962.6 636h0M1017.2 712.4h0M182.4 545h0M1015 679.2h0M481.1 582.2h0M1016.6 729.8h0M972.7 757.1h0M857.2 363.1h0M314.6 778.9h0M562.5 219.1h0M705.2 162.1h0M626.4 427.7h0M827.3 225.3h0M720.1 853.3h0M988.7 686.2h0M387.8 800.2h0M461.1 446.8h0M982.4 774h0M691.5 435.4h0M738.5 180.4h0M533 232.4h0M442.5 837.5h0M965.7 650.5h0M488 517.6h0M1058.7 695.2h0M563.4 471.8h0M964.8 751.6h0M975.5 773.1h0M638.1 418.4h0M1017.3 728.5h0M261.7 533.7h0M1034 724.1h0M592.2 472.5h0M615.8 658h0M362 805.5h0M1020.5 718.2h0M713.3 186.5h0M690.3 431.6h0M1018.7 644h0M545.3 316.7h0M1029.9 632.8h0M961.1 775.5h0M984.3 707h0M1018.6 759.9h0M1008.6 746.7h0M1045.6 650h0M1029.5 700.9h0M349.9 748.8h0M978.4 703.8h0M631.3 689h0M766.8 601.9h0M918.8 734.4h0M862.9 363.2h0M524 1005h0M540.8 318.5h0M964.3 737.5h0M716.5 128.9h0M550.3 472.8h0M1036.4 748.9h0M772.6 301.1h0M463.7 863.9h0M234.5 539.3h0M1027.4 657h0M319.9 783.2h0M345.6 840.9h0M725.9 132.4h0M1001.8 646.4h0M576.8 471.6h0M961.4 761.8h0M704.1 580.7h0M970.5 777.9h0M948.1 743.9h0M684 140.7h0M1066.2 655.2h0M1031.2 681.6h0M630.4 663.3h0M746.2 243.7h0M671.2 160.8h0M1041 737.4h0M636.9 679.6h0M680.8 181.1h0M996.1 775.7h0M949.5 747.4h0M223.3 514.8h0M361.5 848.2h0M707.9 166h0M487 517.2h0M991.8 622.2h0M656.4 684.6h0M955 766h0M351.1 828.8h0M1020.6 621.1h0M509.6 563.6h0M874.5 371.8h0M1009.5 688.8h0M1033.2 651.9h0M995.8 672.4h0M1039 734.9h0M983.3 659h0M963.8 778.7h0M729.7 154.8h0M916.3 779.6h0M671.6 224.6h0M987.7 623.1h0M1043.2 703.3h0M769.5 599.7h0M955.1 380.8h0M483.2 509.3h0M997.6 698h0M1014.3 681.1h0M1034.7 670.4h0M789.8 207.9h0M1049.4 695.5h0M738.9 227.2h0M690.2 124.6h0M468.7 444h0M937.9 768.2h0M921.3 745.1h0M808.9 780.5h0M679.4 160h0M378.3 778.4h0M996.5 682.4h0M248.5 505.3h0M981.5 756.8h0M893.4 369.7h0M1059.4 669.5h0M579 748.8h0M781.4 305.2h0M157.1 561h0M806.7 275.7h0M224.3 552.9h0M500.6 529.1h0M941.1 751.7h0M480.3 587.5h0M984.1 765.7h0M587.3 396.1h0M345.9 852h0M694.9 442.6h0M345.7 722.7h0M925.3 351.3h0M1008.4 640h0M969.5 647.9h0M417.3 396.1h0M307.8 806.7h0M686.7 144h0M331.6 743.9h0M982.1 680.6h0M983.4 664.3h0M323.3 747h0M963.2 631.6h0M1041.2 693.9h0M1004.3 772.6h0M1034 651.7h0M734.1 144.2h0M976.9 666.4h0M783.7 215.4h0M467.7 561.1h0M975.8 632h0M707.2 448.8h0M439.7 548.9h0M397.9 803.4h0M713.4 176.2h0M957.6 730.8h0M1026.8 730h0M828 221h0M1038.7 697.1h0M658 433.4h0M944 770.9h0M711.4 130.5h0M959.9 768.6h0M1053.5 712.9h0M608.5 466.4h0M197.2 545.2h0M721.8 236.2h0M508.1 909.6h0M486 459.4h0M1034.1 714.4h0M367.5 724.6h0M214.9 565h0M1050 686.9h0M1030.7 716.9h0M1039.4 698.6h0M797.3 264.1h0M742.7 842.4h0M979.2 702.6h0M912.2 692.1h0M1014.6 661.5h0M1055.6 701h0M582.5 222.2h0M677.8 137.5h0M817 223.8h0M313.8 769.6h0M749 556h0M721.9 461.4h0M219.7 517.1h0M670.9 128.9h0M622.2 403h0M1043.5 732.7h0M698.9 135.1h0M788.5 299.4h0M544.7 472.6h0M697.4 176.8h0M950.6 771.9h0M1041.3 646.2h0M987.3 741.9h0M716.7 195.1h0M466.2 548.2h0M423.5 836.1h0M914.6 775.8h0M608.3 652h0M812.7 276.7h0M396.6 408.9h0M570.6 531.6h0M540 222.6h0M311.3 839.9h0M1014.4 695.1h0M896.2 582.1h0M991.3 642.6h0M1015.6 735.7h0M1057.7 662.4h0M625.8 701.8h0M583.4 539.7h0M978.6 707.9h0M369.5 739.7h0M482.2 455.1h0M333 773h0M604 401.3h0M951.9 757.6h0M1062.9 660.3h0M937.3 722h0M373.3 733.1h0M809.5 272.3h0M490.8 549.5h0M527.5 1004.2h0M510.3 539.5h0M763 241.6h0M927.7 709.8h0M997.1 680.8h0M550.5 473.5h0M486.7 456.5h0M1008 640.1h0M679.4 452.4h0M721.7 207.5h0M177.7 535.2h0M984.7 672.9h0M934.3 772.4h0M678.5 195.4h0M488.6 872.1h0M980.5 704.3h0M553 763.9h0M828.1 289.8h0M314.3 850.3h0M993.5 662.7h0M366.9 823.2h0M981.5 761.5h0M702.3 430.5h0M1008.3 705.4h0M1041.1 744.8h0M211.9 535.7h0M182.5 518.3h0M719.6 236.4h0M703.7 461.6h0M649.3 689.2h0M755.6 562.6h0M968.9 653.6h0M954.2 705.5h0M394.4 410h0M995.7 759.6h0M363.1 741h0M332.8 803.3h0M961.9 663.4h0M600.6 386.7h0M321 792.8h0M255.4 496h0M784.6 272.9h0M998.3 623.7h0M972.1 768.4h0M765.1 206.6h0M1067 657.9h0M339.1 812.5h0M896.5 703.7h0M303.5 808.5h0M1041.4 727.5h0M518 989h0M546.2 216.3h0M228.7 537h0M354.1 794.2h0M807.6 293.6h0M685.8 143.8h0M1040.6 704.1h0M640 908h0M977.5 655.7h0M595.1 548h0M479.3 502.1h0M1014.7 732.6h0M768.8 263.4h0M375.1 772.2h0M582.3 224.8h0M579.8 538.9h0M689.7 163.9h0M547.6 226.9h0M735 141h0M160.7 559.3h0M393.6 411.5h0M457.5 531.4h0M986.2 716.5h0M785.3 212.5h0M1016.2 725.3h0M940.3 732.5h0M1056.3 696.3h0M201.7 537.2h0M792.7 315h0M1037.4 642h0M677.9 218.7h0M1029.1 757.6h0M946.1 713.7h0M560 246h0M929.9 770.7h0M920.6 781.3h0M405.9 387h0M977.7 678.1h0M681.2 244.2h0M967.2 653.9h0M206.1 542.5h0M369.1 852.6h0M730.8 164.2h0M822.7 291.4h0M551.2 218.3h0M802 222.9h0M995.9 645.1h0M334.8 745.2h0M1008.4 652h0M426.3 545.8h0M520.3 559.1h0M981.8 773h0M668.9 143.4h0M1066.7 691.1h0M805.9 215h0M739.2 157.9h0M921.2 714.8h0M999.5 742.5h0M643.6 697.4h0M709.2 454.9h0M981.2 725.7h0M423 445h0M989.1 746.1h0M920 775.4h0M946.9 363.4h0M964.5 705.7h0M609.5 425.7h0M167.6 545.8h0M991 763.8h0M729.7 126.6h0M1028.2 652.6h0M822.3 223.6h0M718.3 123.8h0M722.9 180.7h0M334.1 790h0M914.8 557.1h0M353.2 838.6h0M330.7 819h0M783.8 268.9h0M936.6 648h0M203 520.4h0M1008.8 657.1h0M667.2 123.7h0M546.4 441.6h0M588.8 737.1h0M715.3 164.3h0M1055.9 695.3h0M677.6 160.6h0M891.9 373.4h0M615.9 657.6h0M657.5 688h0M454.9 845.2h0M675.9 184.8h0M456 563.5h0M568 460h0M356.1 773h0M981.3 702.2h0M982.7 668h0M455 558.3h0M186.1 512.6h0M802.3 217.4h0M493 470.4h0M546.9 212.4h0M520.4 498.6h0M455.4 578.1h0M402.8 802.6h0M1019 719.3h0M929.8 372.5h0M1055 652.5h0M703.3 183h0M997.3 688.5h0M491.1 456.4h0M190.8 524.5h0M783.8 309.8h0M601.8 458.7h0M1045.6 704.4h0M959.1 754.6h0M706.6 473.3h0M819.2 221.1h0M410.4 415.2h0M496.2 553.7h0M671.5 223h0M896.2 572.4h0M367.6 737.4h0M616.2 414.1h0M565.8 778.8h0M473 565.4h0M474.2 859.6h0M912.7 541.8h0M983.5 775.8h0M423.8 402.6h0M950.1 655h0M1001.2 641.6h0M493 511.8h0M1006.8 743.5h0M1012 677h0M637.2 463.5h0M643.8 424.5h0M185.4 538h0M197.9 556.9h0M386.8 791.4h0M981.8 635.2h0M567.8 223.4h0M659.3 139.5h0M663.3 117.4h0M641 916h0M408.4 814.9h0M668 166.3h0M1011.3 665.6h0M616.2 653.9h0M687.2 167.8h0M543.9 217.5h0M973.7 777.9h0M981.7 650h0M968.9 694.1h0M608.1 451.4h0M312.3 796.2h0M1011.6 754.2h0M226.1 510.3h0M966.7 772.2h0M620.9 692.4h0M944 667.9h0M742.2 603.6h0M582.8 467.3h0M1010.2 622.7h0M969.3 695.4h0M398.1 826h0M381.2 815.6h0M495.6 453.1h0M718.7 938.7h0M681.1 119.8h0M677 151.1h0M980.2 684.2h0M714.1 468.1h0M416.9 848.8h0M1003.2 721.5h0M467.9 586.3h0M993.3 709.9h0M1019.9 747.9h0M1028 634.2h0M368.7 734.5h0M989.5 695.9h0M1056.8 708.6h0M676.6 140.6h0M400.8 429.5h0M339.3 725.7h0M336.2 802.1h0M1044.7 661h0M672 164.1h0M199.3 553.6h0M739.2 227.1h0M1041.1 709.3h0M784.4 255.2h0M1022.9 622h0M1008.2 646.7h0M209.9 527.2h0M700.3 842.9h0M273.7 534.6h0M493.9 562.6h0M714.5 178.5h0M696.9 148.9h0M222.9 574.5h0M684.6 140.1h0M634.8 441.8h0M956.2 749.5h0M409.4 821h0M601.6 660.7h0M649 244.9h0M1065.1 672.2h0M702.8 448.7h0M438.7 526.3h0M454 575.5h0M396.4 818.1h0M930 753.1h0M772.3 588h0M507 879.1h0M513.3 562.5h0M396.5 419.3h0M344.2 729.8h0M1020.1 744.5h0M496.1 526.8h0M981.1 645.9h0M595.6 465.9h0M716.6 850.7h0M1004.4 731.4h0M617.7 870.1h0M931 760.9h0M219 573.6h0M648.7 694.8h0M225.1 549.2h0M690.6 135.7h0M1019.2 755.5h0M997.2 696.4h0M1038.1 658.8h0M610.6 646.2h0M949.5 778.3h0M454.8 862.7h0M791.5 269.7h0M667.1 173.3h0M606.3 234.5h0M369.5 827.5h0M229.9 526.3h0M708.8 123.7h0M208.1 569h0M196.9 571h0M485.9 500.1h0M1022.9 758.5h0M805.8 212.4h0M968.5 726.6h0M399.6 859.8h0M346.6 778.7h0M547.4 230.5h0M709.9 464.4h0M454.6 547.2h0M993 765.3h0M943.9 677.6h0M702.2 850h0M1030.8 727.2h0M896.7 374.6h0M1031.5 730.3h0M831.1 298.1h0M941.9 751.1h0M723.1 170.2h0M396.6 850.8h0M939.8 673.9h0M1013.7 710.3h0M382.1 728.7h0M167.1 531h0M769.2 220.2h0M1034.9 739.3h0M921.6 365.9h0M986 716.5h0M333.5 782.5h0M515.4 569h0M962.6 633.6h0M735.5 207.5h0M626.2 658.4h0M726.6 173.6h0M489.6 475.6h0M215.2 545.2h0M201.7 533.1h0M1000.8 639.6h0M998.6 730.7h0M543.1 216.7h0M440.7 833.4h0M1015.1 758.8h0M742.4 228.5h0M940.1 714.6h0M867.1 365.8h0M524 473h0M179.6 553.8h0M607.8 384.3h0M209.5 521h0M1026.9 697.3h0M619.6 696.2h0M1033.2 750.2h0M957.6 771.7h0M1055.5 679.2h0M470.4 429.6h0M1006.9 721.9h0M496.2 557.6h0M1043.6 720.3h0M959.9 683.1h0M1055.7 688.1h0M923.8 767.8h0M631 699.3h0M456.2 560.9h0M967.1 677.8h0M991.3 718.7h0M200.2 514.7h0M987 641.9h0M550 214.5h0M1031.4 738.2h0M968.3 669.7h0M977.1 685.3h0M737.7 150.6h0M780.7 209.2h0M678 460h0M391.8 394.4h0M655 705.4h0M1031.4 659.1h0M472.6 554.9h0M408.4 811.8h0M1023.8 698.6h0M949.2 703.9h0M705.3 122.1h0M1004.9 756.6h0M720 149.9h0M1002.5 700.9h0M1012.2 720.6h0M1032.2 640.7h0M430.8 856.6h0M379.6 753.2h0M1043.2 710.5h0M231.2 541.5h0M996.3 661h0M950.9 683.9h0M696.8 438.9h0M607.4 401.3h0M911.6 737.2h0M314.4 796.9h0M1021 748.3h0M1041.8 644.6h0M1023.6 680.7h0M310.6 828.4h0M459.9 564.1h0M958.4 779.2h0M946.9 689.3h0M1026.7 653.9h0M1015.9 640.7h0M721 495.8h0M989.2 726h0M821.3 296.3h0M957 366.4h0M441.1 543.7h0M937.4 371.2h0M609.7 413.5h0M1019.3 694.9h0M938.1 716.7h0M483.5 502.8h0M576.5 231.8h0M554.3 776.1h0M377.4 824.7h0M1002.7 648.4h0M512 534.2h0M204 532.8h0M958.4 752.3h0M501.2 515.4h0M447.7 559.9h0M986.4 776.7h0M959.3 673.1h0M423 422h0M1019.8 659.9h0M611.2 386.2h0M544.4 220.3h0M996.5 656.3h0M314.8 815.6h0M661.4 138.1h0M775 592.6h0M378.4 767.5h0M401.2 840.7h0M977 748.4h0M1066.2 659.7h0M974.7 628.8h0M370.5 795.5h0M1030.3 674.1h0M962.6 725.9h0M988.4 654.6h0M987.2 655.9h0M974.1 748.7h0M697.6 186.9h0M635.6 675.2h0M974.7 728.7h0M978.3 662.7h0M468.9 430.2h0M975 731.7h0M1053.1 715.1h0M236.3 531.8h0M950.9 716.6h0M1050.7 697.2h0M621.8 875.6h0M324.9 854.3h0M490.1 359.4h0M1015.3 636.6h0M640.3 659.9h0M346.9 851.3h0M665.4 168.7h0M994.5 734.5h0M476.9 460.7h0M339 757.3h0M377.5 748.8h0M361.5 795.8h0M727.9 156.4h0M980.2 768.6h0M547.8 246.2h0M359.8 833.3h0M1048.3 670.6h0M199.5 535.5h0M1041.2 631h0M632.4 899.6h0M681.7 156.7h0M387.9 411.6h0M705.1 155.9h0M1000.2 707h0M622.6 652.8h0M610.4 662.8h0M747.9 606.5h0M1040.3 658.9h0M947.1 754h0M160.5 555.8h0M576.1 535.1h0M709.3 122.7h0M413.9 396.4h0M367.4 751.2h0M373 737.7h0M952.2 377.3h0M1024.9 755.8h0M771.5 589.5h0M630.7 464h0M978 655.2h0M1003.7 631.5h0M236.2 527.7h0M301.3 839.1h0M697.1 854h0M366.7 833.4h0M982 647.7h0M714.1 134.7h0M513.9 458.7h0M319.6 791.3h0M733.4 183.8h0M566 777.3h0M524 982h0M544.9 250.9h0M1045.3 669.5h0M472.1 432.6h0M188.7 544.4h0M500.3 452.1h0M959.7 732.4h0M692.4 131h0M1051.7 701.7h0M993.1 721.9h0M193.4 507.7h0M233.2 529.9h0M234.5 538.7h0M610.3 385.1h0M582.9 231.6h0M423.6 862.2h0M1026.5 662.8h0M713.8 155.9h0M204.2 566.8h0M955.1 679.2h0M355 835.4h0M166.3 548.4h0M380 734.4h0M995.4 758.1h0M602.5 686.4h0M1040.6 694.9h0M961.6 377.1h0M923.1 774.1h0M228.2 543.2h0M950.4 713.1h0M713.2 440.5h0M515.2 568.2h0M1010.1 682.6h0M1030.5 687.9h0M740.4 185.8h0M784.4 564.2h0M989.1 775.2h0M726.8 145.8h0M961.3 763.6h0M1037.3 636h0M350.3 795.6h0M594.6 388.9h0M164.3 548.9h0M902.2 699h0M1008.3 702.3h0M947.3 737.9h0M1026.3 628.7h0M734.4 215.1h0M927.4 778.2h0M491.1 589.1h0M1000.3 653.5h0M682.4 437.4h0M407.4 823.6h0M778 245.3h0M776 252.7h0M316.9 774.8h0M963.8 764.1h0M518.7 985h0M1036.2 681.2h0M411.3 812.8h0M235 562h0M621 464.2h0M646.2 675.1h0M694 169.4h0M766.8 244h0M416.9 398.3h0M718.3 173.9h0M512.8 457.9h0M1001.8 732.8h0M991.8 671.2h0M663.8 130.9h0M930.3 767.7h0M904.9 552.1h0M359.3 828h0M707 178.1h0M719.9 822.4h0M479.5 548.7h0M806.6 220.5h0M989.4 765.8h0M979.5 752.4h0M742.9 205h0M454.5 555.5h0M710.1 446.7h0M372 749.3h0M401.9 779.6h0M667.2 714h0M490.9 456.6h0M954.6 713h0M1019.2 628.5h0M611.4 670.4h0M433.2 857h0M234.9 542.2h0M562.4 470.7h0M355.6 814.1h0M404.3 386.8h0M496.3 555.2h0M195.8 535.7h0M702.4 935.6h0M709 139.6h0M679 132.6h0M544.6 226.7h0M330.6 741h0M833.2 281.4h0M710.2 147h0M716.4 447.7h0M1031.3 691.4h0M544.5 314.5h0M445.2 525.5h0M300.4 804.8h0M629.6 698.5h0M718.3 936.1h0M721.7 196.1h0M981.3 727.5h0M674.2 217.3h0M1030.5 702.3h0M663 137.6h0M355 731.7h0M1017.6 756.1h0M601.5 691.4h0M707.4 233.5h0M673.9 145.6h0M389.8 834.9h0M545.6 248.1h0M1005.3 666.3h0M652.9 701.9h0M770.1 201.8h0M991.7 674.1h0M547.1 316.7h0M454.6 539h0M173.8 562.4h0M520 978h0M973 759.5h0M303 853.4h0M499.2 541.7h0M758.8 213.8h0M1011.3 748.6h0M680 453.8h0M1025.3 710.8h0M201.5 560.9h0M779.4 300.9h0M1036.3 651.6h0M968.6 740.1h0M730.8 218.3h0M510.7 876h0M194.7 565.3h0M973.2 725.7h0M1002.7 692.8h0M436.7 852.8h0M1039.2 726.2h0M954.1 731.8h0M1035 653.6h0M616 659.7h0M724.9 182.4h0M772.9 583.2h0M691.2 178.8h0M1001.4 621h0M615.9 699.6h0M219.8 533.4h0M1020.6 742.5h0M352.5 756.7h0M800.7 224.7h0M745 272h0M1016 723.1h0M515.4 568.1h0M1007.4 631.6h0M249.9 536.8h0M946.1 752.2h0M734.7 203.6h0M755.4 600.8h0M1057.3 692.5h0M642.8 680.4h0M879.2 373.1h0M187.9 511.8h0M525.7 493.3h0M496.7 526.7h0M694.4 117.7h0M958.5 747.1h0M693.1 441.6h0M471.8 852.4h0M793.5 271h0M718.3 843.9h0M1062.8 691.8h0M493.7 504.8h0M931.3 756.5h0M1024.1 719.4h0M392.5 426.9h0M173.8 525.8h0M936.7 773.8h0M554.9 472.2h0M198.4 541.6h0M613.7 668.1h0M623.3 671h0M365.8 755.5h0M978.8 681.7h0M933 759.7h0M960.8 751.5h0M437 525.4h0M1041.5 639.5h0M1053.9 667.5h0M1039.8 652.3h0M161.7 556.8h0M1022.1 759.3h0M431.9 843.5h0M960.3 677.3h0M590.6 469h0M228.5 512.8h0M1030.3 644.8h0M996.8 765.1h0M400.6 812.9h0M1003 689.8h0M435.1 835.6h0M828.9 277.9h0M1005.5 632h0M448.8 864.3h0M983 689.8h0M735.4 547h0M909.4 543.7h0M676.8 134.4h0M988.8 676h0M905.8 694.7h0M1011.7 710h0M752 550h0M164.3 542.5h0M521 981h0M1008.6 700.7h0M975.8 673.5h0M1011.6 709.7h0M378.9 748.3h0M995.9 720h0M749 247.3h0M458.7 567.6h0M999.1 750.9h0M1009.9 754.1h0M984.1 712.8h0M715.2 453.7h0M543.9 314.5h0M429.8 536.3h0M669 439h0M1013.9 725.3h0M1016.4 661.5h0M985.7 699.2h0M501 531.4h0M1006.4 655.5h0M418.7 394.1h0M874.1 374h0M1018.8 721.6h0M468.6 557.8h0M621 690.8h0M697.6 168h0M698.6 455.8h0M677.6 174.6h0M1031.3 668.9h0M1024.2 733.5h0M729.2 571.2h0M993.9 742h0M400 402h0M361.2 747.1h0M951.5 779h0M341.5 738h0M870 372.2h0M355.9 838.5h0M397.6 815h0M984.6 640.6h0M800.1 228.3h0M378.8 835.9h0M474.2 433.2h0M486.9 463.4h0M918.6 754.4h0M1048.8 701h0M607 670.8h0M745.6 553h0M674.6 228.2h0M977.6 769h0M1017.7 736.8h0M1018.9 623.7h0M166.2 529.3h0M512.5 564.7h0M942 679.9h0M729.9 129h0M345.8 729h0M395 815.1h0M174.3 524.5h0M490.9 534.6h0M708.8 439.1h0M761.7 227.8h0M714.3 128.3h0M737.6 161.4h0M736.9 846.6h0M431 838.7h0M936.4 681.8h0M784.9 220.8h0M987.7 708.3h0M917 743.4h0M816 231.6h0M1025.2 676.4h0M953.4 745.7h0M708.5 153h0M184.9 559.2h0M257.6 495h0M957.5 726.5h0M612.8 413.6h0M982.7 633.7h0M979.2 757.1h0M340.1 736.7h0M981.9 681.7h0M701.7 121.8h0M304.1 811.1h0M625 706.5h0M1035 744.6h0M783 307h0M724.3 138h0M596.1 554.1h0M988.5 669.1h0M389.9 847h0M950.6 368.7h0M725 189.3h0M639.6 694.7h0M879.3 378.3h0M607.3 669.3h0M764.8 239.8h0M979.6 666.1h0M1004.1 712.4h0M484.1 539.5h0M820.6 225h0M481 472.6h0M556.8 227.2h0M1001.4 717.9h0M693.8 170.7h0M960.4 732.3h0M757.2 221.3h0M509.9 461h0M1012.2 634.6h0M1003.2 626.2h0M748.7 246.2h0M674.4 151.2h0M434.3 836.1h0M963.3 743h0M707.7 458.6h0M745.2 798.4h0M952.8 759.4h0M879.4 373.2h0M1002.9 673.3h0M696.1 424.9h0M980.1 698h0M972.4 722.9h0M482.7 861.6h0M652.9 705h0M1001.7 752.8h0M753 546.6h0M978.9 722.8h0M319 803.2h0M326.6 855.6h0M189.8 548.6h0M1008.9 773.7h0M975.3 647.6h0M706.6 117.7h0M1057.6 692.7h0M484.7 537.2h0M709.4 185.3h0M1029.1 629.8h0M654.2 683.6h0M939.9 743h0M988.3 698.9h0M432.2 557.7h0M756.8 228.8h0M696.8 429.7h0M974.5 780h0M980.6 672.8h0M691.6 435.1h0M691.4 137.7h0M169.7 541.2h0M703 145.1h0M490.4 572.6h0M1042.1 724.8h0M726.7 854.8h0M739 185.1h0M997.3 734.3h0M600.3 654.6h0M362.5 819.2h0M401.9 809.7h0M528.7 480.3h0M1021.7 712.7h0M673.9 124.4h0M972.8 693.9h0M1008.9 663.1h0M500.8 539h0M570.6 226.3h0M659.7 140.9h0M397.8 384.4h0M404.7 816.1h0M400.4 855.3h0M195.3 525.6h0M769.3 212h0M516.9 540.3h0M720.5 190.8h0M725.7 127.6h0M795.4 285h0M168.1 555h0M985.9 765.4h0M395.6 412.8h0M966.5 748.6h0M646.8 244.4h0M983.4 753.6h0M809.4 225.9h0M366.2 785.5h0M965.8 652.1h0M671.2 176.6h0M1050.1 655.9h0M227.2 544.5h0M1035.7 665.4h0M687.9 178.1h0M987.5 718.2h0M1013.9 639.3h0M957.6 715.8h0M417.1 824.5h0M752.7 210.7h0M676.1 164.9h0M216.5 564h0M535.6 999.6h0M963.8 773.2h0M1021.7 658.4h0M1007.9 761.9h0M795.9 274.9h0M1001 699.2h0M942.7 676.3h0M995.6 625.2h0M340.2 799.4h0M752.4 240.7h0M343.8 739.8h0M1001.4 627.1h0M341.6 824.8h0M513.4 449.6h0M331.8 765.6h0M960 657.4h0M366.3 757.4h0M381.5 782.8h0M542 227.4h0M1014.9 715.4h0M972 630.4h0M970.2 728.1h0M952.8 720.9h0M917 784.6h0M779.3 219.2h0M1015.2 708.2h0M1013.4 718h0M717.8 184.7h0M900.5 716.5h0M896.9 368.9h0M405.5 806.9h0M302.8 830h0M1017 660.4h0M1042.2 688.1h0M722 589.1h0M713.1 453.1h0M732.4 176.4h0M437.3 831h0M1000.6 725.7h0M201.3 540.6h0M316.4 755.6h0M1029.2 742.6h0M395 790.2h0M967.5 722.9h0M532 1012h0M1040.7 632h0M997.5 771.6h0M288.8 828.1h0M317.6 767.8h0M1023 707.8h0M522.9 494.4h0M719.6 820.5h0M997.1 711.2h0M663.1 233.5h0M965.9 641.5h0M556.5 223.5h0M961.9 775.9h0M493.9 505.3h0M1049.9 656.7h0M955.1 747.3h0M719.7 138.8h0M581.9 745.6h0M525.6 494.2h0M669.4 165.9h0M1006 666.6h0M1033.4 739.6h0M814.9 226.3h0M490.6 528.3h0M800.7 274.1h0M1021.7 706h0M382.4 850.8h0M351.4 786h0M625 447.9h0M232.2 550.9h0M983.3 708.7h0M1041.3 652.4h0M360.2 725.8h0M1024.1 648.8h0M707.5 155.1h0M413.2 812.3h0M685.8 157.9h0M824.3 298.4h0M913.1 769.3h0M730.7 201h0M355.4 810.6h0M976.3 760.7h0M762 569h0M181.6 537.5h0M721.9 595.8h0M514.3 876.3h0M662.2 128.1h0M1025.4 665.4h0M447.9 541.7h0M480.5 568h0M547.4 767.1h0M1056.7 673.7h0M496.9 529.6h0M634.2 680.2h0M381.8 846.1h0M729.3 188.8h0M909.8 689.8h0M755.4 235.4h0M957.1 759.3h0M999.4 773.5h0M921.9 696.2h0M708.8 188h0M573.9 223.3h0M1043.3 636.1h0M766.7 213.7h0M461.2 546.5h0M1031.6 719.5h0M749.8 606.5h0M1011.1 673.4h0M951.2 377.7h0M511.5 873.2h0M611.8 457.8h0M947.1 746.1h0M970.2 672.6h0M449.9 569.6h0M166.6 524.1h0M472.5 553.7h0M705.3 155.1h0M611.6 674h0M546.4 246h0M646.8 707.8h0M380.2 849.3h0M394.8 835.9h0M574.4 502.4h0M399.3 851.5h0M1023.5 683.6h0M673.4 120.6h0M745.2 228.8h0M969.3 775.6h0M744.1 238.7h0M1017.4 731.5h0M1015.1 637h0M698.5 451.6h0M1004.3 757.3h0M751.5 602.7h0M968.4 725.3h0M595.3 675.4h0M466.9 847.6h0M395.1 387.5h0M185.6 528.3h0M733.4 193.6h0M178.3 550h0M1065.4 677.7h0M998.5 626.8h0M811.7 294.8h0M639.4 658.1h0M980.3 709.2h0M460.6 549.5h0M476.1 566.1h0M341.6 725h0M789.3 274.2h0M675.7 714.2h0M396 783.7h0M412.4 815.7h0M994.5 687.5h0M386 751.1h0M161.8 541.3h0M412.4 835.9h0M596.4 665.7h0M466 451.8h0M754.6 204.2h0M1033.5 728.5h0M657.5 688.5h0M695 260h0M975.5 682.1h0M202.2 548.8h0M1042.4 640.1h0M750 789h0M425.3 824.7h0M1007.5 654.3h0M734.6 163.2h0M748 270h0M237.7 553.2h0M951.7 701.3h0M397.4 400.6h0M615.9 405.9h0M1017.7 676h0M932.7 684.5h0M380.5 848.1h0M707.1 431.2h0M397 768.9h0M600.2 444.4h0M678.7 214.4h0M777.1 298.7h0M502.8 560.4h0M759.3 235.9h0M1041.5 699.2h0M255.3 545h0M688.1 442.8h0M730.2 137.3h0M510 425h0M990.8 773.8h0M388.1 731h0M1004.7 721.5h0M351.4 828.3h0M660.2 701.8h0M750.1 197.5h0M315.1 809.6h0M702.8 167.5h0M949.3 761.2h0M944.6 752.3h0M483.6 531h0M1009.3 739.1h0M318.5 855.3h0M989.3 669.5h0M600.4 459.3h0M718.1 131.1h0M710.9 840.8h0M498.7 508.7h0M1030.1 669.5h0M1016.7 730.7h0M202.5 564.8h0M594 230.3h0M975.1 780.6h0M190.2 538.9h0M1002.4 627h0M812.9 230.1h0M1022.5 634.2h0M938.1 779.9h0M714.1 188.4h0M746.6 207.2h0M1032.9 681.8h0M1043.8 636.9h0M1027.9 649.8h0M690.7 433.1h0M988.9 641.2h0M1052 659.6h0M1012.2 682.2h0M564.9 473.3h0M912 541h0M983.5 647.6h0M401.5 856.4h0M604.6 463.6h0M661.3 124.3h0M308 827h0M984.6 656.1h0M384.7 857.4h0M932.8 740.7h0M979.4 729.4h0M1061.3 645.2h0M961.3 727.5h0M959.1 678.4h0M978.3 762.9h0M891.6 374h0M982.6 772.8h0M514.2 460.9h0M1039.1 705.6h0M319 770.7h0M1020.2 686.2h0M618.9 683.4h0M1020.9 631h0M786 272.9h0M402 411.8h0M367.5 864.2h0M1042 640.3h0M630.1 667.1h0M324.1 830.5h0M706 457.4h0M343 773.7h0M453 560.6h0M784.5 583.9h0M667.2 144.9h0M1001 661h0M444 532.7h0M507.2 537.8h0M953.4 741.2h0M752.6 211.1h0M342.3 776.6h0M802.5 276.2h0M792.8 223.3h0M551.3 231.5h0M969.6 367.5h0M548.6 508.4h0M762.4 593.6h0M164.9 534.6h0M624.1 688.8h0M717 164.2h0M455.6 866.2h0M387.6 401.4h0M500.7 562.7h0M1031.7 632.1h0M462.8 866h0M1010.4 754.5h0M1035.6 631.8h0M995 664.9h0M767.9 257.3h0M832.7 295.9h0M741.5 212.8h0M519.2 989.2h0M1037.2 629.6h0M962.5 777.7h0M383.1 860h0M945.7 744.5h0M955.2 716.5h0M203.4 515.6h0M1009.5 734.7h0M824.5 231h0M301.7 825.2h0M493.8 546.7h0M447.5 543.1h0M455.7 564.1h0M1011.1 772.7h0M422.4 418.3h0M258.6 489.8h0M511.1 541.4h0M510.8 513.4h0M1059.8 696.9h0M1054.4 661.9h0M390.8 752.6h0M961.6 764.3h0M967.6 762.6h0M523.3 1002.5h0M460.2 451.8h0M963.7 653.9h0M624.3 675.1h0M638.4 464.4h0M401.2 828.8h0M322.8 838.8h0M974.5 695.6h0M1044.8 686.7h0M645.2 675.6h0M774.4 599.5h0M389.5 740h0M719.7 935h0M305.7 817.4h0M358.4 745.4h0M1021.4 663.4h0M1022.5 764.7h0M389.9 404.3h0M317.8 758.3h0M172.1 556h0M513.7 567.1h0M980 656.1h0M301.9 823.7h0M1025.8 639.4h0M493.1 558.4h0M372.1 799.8h0M563.3 524.6h0M621.7 878.4h0M424.4 440.4h0M753 562.4h0M618 644.3h0M540.1 241.7h0M752 216.6h0M946 734.4h0M1007.1 693.4h0M589.3 545h0M682.8 157.9h0M1002.7 744h0M964.8 737.6h0M383.8 843.9h0M1011.4 622.1h0M974.9 646.8h0M327.7 843.5h0M965.6 741.7h0M743 537.6h0M977.3 677.6h0M707.2 164.3h0M974.6 745.9h0M339 838.4h0M1039.7 735.8h0M222.2 561.9h0M486.3 544h0M401.1 396.1h0M418.5 837.4h0M1033.2 709.5h0M361.9 731.2h0M947.3 752.7h0M359.5 748.2h0M400 390.5h0M386.9 743.3h0M472.9 575.7h0M383.9 808.4h0M345 716.8h0M177.8 534.6h0M347.7 770.4h0M905.1 551.5h0M997.7 703.1h0M646.4 246h0M916.2 374.1h0M944.4 680.4h0M943.5 758.1h0M489.7 587.6h0M1006.9 723.6h0M521.6 551.4h0M697.7 182h0M373.2 734h0M1050.4 727.6h0M385 409.5h0M689.5 153.8h0M490.8 496.9h0M344.6 733.4h0M740.4 207.4h0M1011.7 775.3h0M553.6 518.8h0M974.3 714.6h0M497.5 524h0M652.9 685.7h0M503.5 549.5h0M366.2 751.8h0M429.9 397.4h0M404.8 818.2h0M355.4 722.5h0M951.2 371.7h0M699.3 190.3h0M372 750h0M1037.3 670.4h0M332.5 834.7h0M964.4 674.2h0M621.5 663.5h0M818.5 268.3h0M700.9 464.2h0M492.7 553.2h0M404.6 393.6h0M594.1 676h0M824.3 216.8h0M415.8 831.6h0M373.1 815.1h0M694.3 439.5h0M1046.3 734.6h0M1001.7 643h0M668 448h0M445.8 859.5h0M967.4 726.5h0M543.9 217.4h0M401.6 812.5h0M961.5 369.9h0M1044.8 739.1h0M448.8 411.8h0M364.8 726.3h0M331.8 741h0M503.6 539.2h0M814.6 236.1h0M312.9 839h0M435.1 536.8h0M919 767.4h0M945.5 710.5h0M971.5 651.7h0M760.9 226.6h0M629.6 889h0M550.6 469.5h0M1006.7 657.5h0M1014 741h0M948.6 381.6h0M971.8 716.9h0M705.5 148.5h0M919.9 699.1h0M728 846.4h0M935.3 743.7h0M1021.3 651.1h0M670.8 137.8h0M579.7 231.3h0M251.1 534.8h0M531.3 485h0M368.8 831.9h0M457.1 452.8h0M726.3 202.5h0M742.4 586.4h0M665.2 118.5h0M363.6 756.9h0M654.6 239.5h0M958.4 733.7h0M791.5 262.7h0M1024.1 715h0M1063.2 654.5h0M509.9 503.2h0M1014.4 659.2h0M548.5 312.5h0M172.3 526.8h0M219.1 537.8h0M726.5 454.9h0M719.9 823.6h0M371.6 816.1h0M916.5 772.3h0M724.2 171h0M896.8 561.9h0M359.3 784h0M405.6 852.7h0M711.4 838.5h0M690.5 129.9h0M1022.5 732.3h0M441.5 853.2h0M989.6 748.3h0M543.9 241.8h0M1027.3 693.8h0M917.6 725.9h0M978.8 760.3h0M739.1 593.5h0M1017.7 626.5h0M735.1 137.2h0M955.7 678.9h0M541.6 215h0M495.7 456.5h0M1041.9 709.9h0M394.5 844.2h0M1064.2 678.2h0M972.3 672.7h0M1028.5 644.1h0M408.7 432.8h0M520 1011.6h0M1017.1 768.8h0M1018 733.5h0M666.5 693.8h0M1030.5 750.6h0M1048.7 733.5h0M503.7 551.9h0M788.1 311.9h0M391.9 776.1h0M584.5 231.1h0M325.4 791.1h0M1041.3 684.2h0M960 660.6h0M985.5 679.9h0M1006.7 711.1h0M807.7 237.1h0M1020.8 625.1h0M696.2 461h0M511.6 435h0M625.4 663h0M576.3 226.9h0M939.6 737.5h0M604.7 463.2h0M792 260.3h0M932.2 701.3h0M558.4 519.7h0M917.3 694.6h0M1032.2 696.4h0M345.5 810.1h0M1015.6 636.3h0M719.5 159.3h0M431.1 399.1h0M949.5 733.9h0M387.1 805.3h0M587.5 428.6h0M753.9 201h0M225 577.9h0M437.2 848.3h0M801 248h0M561 484h0M1015.9 689.6h0M1040.3 651.4h0M948.4 709.3h0M672.7 167.7h0M925 770.3h0M750.4 204.9h0M583.7 466.8h0M748.2 606.7h0M930.5 773.1h0M809.8 214.2h0M362.4 825.9h0M744.5 597.1h0M290.3 822.1h0M1026.8 691.5h0M302.4 834.4h0M354.8 774.6h0M665.5 139.7h0M917.3 698.4h0M964.3 729.8h0M799.1 211.4h0M636 907h0M721 182.9h0M978.9 701.4h0M678.9 152.9h0M675.6 151.1h0M723.4 213h0M496.9 508h0M946.5 361.1h0M968.6 660.4h0M558.5 770h0M334.6 845.7h0M780.7 302h0M558.8 222.4h0M333.3 750h0M945.9 764.4h0M329.9 837.1h0M524 440.4h0M351.3 752.9h0M430.4 853.5h0M818.1 235.5h0M955 756.5h0M477.8 870.7h0M960.4 632.9h0M792.8 304.1h0M374.6 782.6h0M194.4 561.2h0M716.6 949.6h0M920.2 774.8h0M435.3 859.3h0M721.7 159.6h0M338.1 763.6h0M724 848.3h0M471.5 444.2h0M976.1 661.6h0M778.6 296.5h0M664.7 692.8h0M921.1 710.9h0M951 741.6h0M1022.7 685.4h0M708.2 183.5h0M1017.5 653.3h0M904.6 550.7h0M543.8 230.9h0M684.8 168.8h0M409.8 399.5h0M1029.9 715h0M568 459.6h0M981.2 688.7h0M501.1 545.9h0M769.3 587.5h0M914.5 561.6h0M772.8 240.3h0M979.2 746.1h0M1021.1 755.2h0M453.5 556.6h0M1044.5 736.5h0M250.2 547.3h0M789.4 270h0M166.3 546.3h0M600.6 231.9h0M770 601.3h0M452.6 594h0M963.9 653.9h0M497 881.6h0M323.2 829.4h0M757.1 226.9h0M616.3 676.5h0M1000.9 623.9h0M787.1 307.3h0M339.8 839.6h0M601.9 464h0M441.8 544.2h0M599.3 466.5h0M999.2 738.6h0M1030.2 737.5h0M742 281h0M772.7 593.8h0M962.2 673.3h0M197.4 511.3h0M975.9 643.2h0M668.3 115.2h0M371.1 739.7h0M991.4 632.9h0M711.6 171.9h0M989.7 715.6h0M484.4 548.3h0M334.8 728.8h0M678.1 439.6h0M221.3 509.3h0M724.8 157.7h0M403.7 855.8h0M385.6 816.7h0M1010.4 684.9h0M344.4 738.3h0M613 432.4h0M953.2 754.5h0M682.6 125.9h0M908.4 544.3h0M727.7 126.7h0M632.7 704.9h0M636.6 468.4h0M440.9 836.9h0M393.5 771.7h0M972 759.3h0M977.1 676.4h0M980.6 755.6h0M457.3 840h0M783 308.8h0M610.5 657.1h0M337.5 850.2h0M994.1 621.1h0M331.8 743.5h0M318.3 780.9h0M1000.8 655.3h0M1043.2 669.7h0M383.5 759.3h0M779.7 209.4h0M1053.3 640.6h0M604.8 470.1h0M335.8 747.6h0M209.6 530.5h0M820.5 276.3h0M970.7 634.2h0M1010.3 643.2h0M442.9 561.6h0M590.6 392.3h0M973.5 767.9h0M680.8 145.5h0M1022.9 633.4h0M804.8 279.3h0M806.6 225.8h0M931.5 755h0M340.1 743.5h0M778.4 595.9h0M785.4 261.8h0M659.8 698.4h0M932.4 701.5h0M721.8 131.6h0M406.1 423.1h0M656 462.4h0M477.3 873.7h0M1063.1 665.2h0M1050.3 673.7h0M540.9 318.1h0M778.1 303.2h0M1009.2 772.7h0M327.2 838.8h0M711.7 462.5h0M948.5 776.7h0M605 679.7h0M476 591.9h0M728.2 205.9h0M643.8 705.5h0M805.9 227.3h0M481.2 454.5h0M994.3 687.7h0M572.2 775.1h0M343.6 736.6h0M685.5 142h0M689.8 240.9h0M548.3 474.3h0M336.4 782.2h0M787.1 305.1h0M956.5 774.6h0M617 467.9h0M645.8 696.8h0M380.3 747.9h0M1025.3 670.3h0M533.3 1013.3h0M693.1 167.9h0M399 860.5h0M399.2 839.8h0M1007.1 757.3h0M784.4 564.2h0M464.1 570.8h0M621.4 705.3h0M390.2 389.5h0M981.4 706.3h0M739.9 151.3h0M574 502h0M653.3 692.9h0M720.5 169.5h0M350.4 722.5h0M353.3 726.5h0M492.8 517.5h0M764.8 242.3h0M995.3 730.9h0M1059.7 664.2h0M694.8 427.4h0M610 841h0M316.4 861.6h0M317.5 766.2h0M696.7 187.9h0M778.6 303.7h0M726.3 599.8h0M716.6 938.3h0M1008.4 739.6h0M241.6 512.3h0M477 540.3h0M1029.2 750.2h0M173.1 527.1h0M605.1 393.6h0M921.7 700.9h0M1010.9 758.2h0M801.6 222.1h0M981.4 636.9h0M221.6 577.4h0M982.8 647.6h0M961.5 654.3h0M746.7 202h0M1025.4 627.8h0M709.7 130.8h0M815.7 220.1h0M910.1 738.3h0M187.6 549.6h0M1011.4 655.7h0M635.1 658.8h0M723.2 567.2h0M934.3 781.1h0M502.2 530.7h0M324.6 850.6h0M703.5 435.9h0M745.2 599.9h0M595.1 549.9h0M570.3 219h0M1061.1 659.1h0M693.2 131.8h0M1007 687.5h0M1004.5 700.8h0M994.2 634.2h0M1061.5 650.8h0M574.5 466.5h0M920.9 772.7h0M966.3 759.1h0M324 803.7h0M455.1 839.3h0M408.7 820.3h0M1033.2 669.6h0M738.3 179.3h0M992.8 722.8h0M788.3 304.6h0M1013 629.4h0M937.2 763.9h0M708.8 582.7h0M769.6 205.3h0M792.3 260.3h0M790.7 306.7h0M726.8 172.7h0M962.1 745.8h0M1047.2 650h0M953 724.7h0M670.4 171.8h0M715.8 129.5h0M867.8 367.3h0M747.5 230.6h0M346.7 769h0M774.9 294.3h0M738.7 543.4h0M602.5 394h0M477 523.6h0M335.4 826.3h0M710.3 470.9h0M233.8 503.8h0M959.8 767.8h0M970.3 655.9h0M962.5 704.4h0M839.8 290.4h0M1057.1 664.6h0M1056.7 653.3h0M975.6 646.7h0M990 678.6h0M967.4 635.4h0M565.4 781.9h0M339.6 782.4h0M746.4 221h0M732.2 163.2h0M1006.1 638.7h0M352 841h0M626.5 668.9h0M218.5 508.5h0M357.6 783.2h0M679.5 197.4h0M959.2 362.3h0M323.6 847.4h0M1036.9 708.6h0M747.2 191.3h0M317.6 795.7h0M923.4 727.2h0M557.2 231.2h0M386.9 840.8h0M414.4 827.2h0M771.9 288.9h0M1006.4 765.4h0M1058.7 698.8h0M561.4 524h0M1017.3 721h0M373.2 825.2h0M336.3 787.7h0M652.1 666.9h0M602.2 390.7h0M1035.7 693.2h0M696.3 142.8h0M176 548.7h0M986 753.5h0M430.2 558.5h0M697.4 156.2h0M740.2 234.1h0M542.2 220.7h0M706.7 226.4h0M676.1 147.5h0M1003.5 747.3h0M631.4 429.4h0M1000.5 694.1h0M780.8 210.2h0M492.2 556.3h0M916.2 773.1h0M215.9 538.4h0M1028.2 648.2h0M778.3 304.1h0M569.6 529h0M911.3 579.9h0M379.6 414.1h0M222.7 550.2h0M381.5 801.6h0M987.8 775.4h0M339.3 821.6h0M739.7 180.6h0M480.5 585.1h0M1013.2 695h0M501.6 564.6h0M335.8 834h0M747.8 802h0M429 398h0M962.2 712.8h0M192.7 527.7h0M1018.4 631.6h0M193.2 530.6h0M1031.8 650h0M785.7 308.1h0M470.6 559h0M441.9 856.6h0M508.4 522.2h0M450.7 564.7h0M1047 702.3h0M702.3 856.6h0M394.5 847.3h0M401.9 417.6h0M201.5 537.6h0M1024 699.7h0M1013.5 756h0M987.8 662h0M947.8 719.6h0M778.5 250.5h0M173.3 563.9h0M189.4 538.6h0M924.1 715.2h0M774.4 588.8h0M716.2 453.6h0M774.7 262.6h0M566.9 783.2h0M750.4 789h0M474.2 434.4h0M967.9 638h0M319.3 792.7h0M157.6 532.7h0M1037 703.9h0M487.8 542h0M702 131.4h0M466 445.6h0M1017.5 698h0M966.5 774.1h0M338.7 767.7h0M1021 633.4h0M331.7 839.4h0M981.6 766.8h0M977.7 653.1h0M755.3 232h0M709.1 580h0M1046.1 724.7h0M686.6 175.2h0M423.5 397.6h0M955 773.6h0M940.4 750.7h0M607.2 390.6h0M339.5 737.7h0M743.7 597h0M381.2 796h0M791.4 785.8h0M393.8 401.4h0M305.7 836h0M655.8 243.3h0M518.6 545.6h0M1061.9 691.4h0M973.1 674h0M1038.6 681h0M616.1 420.4h0M977.3 679.5h0M521.1 497.4h0M364.9 842.9h0M321.3 819.9h0M1052.9 649h0M744 219.6h0M1049.3 698h0M927.9 762.9h0M1008.6 708.7h0M411.9 811.8h0M550.7 230.5h0M613.5 649.6h0M684.4 117.8h0M602 452.2h0M604.2 683h0M1020.8 629.4h0M383.9 855.8h0M504.7 547.2h0M1004.4 674h0M1024.9 711.5h0M969.8 645.3h0M1025.4 756.7h0M244.5 530.7h0M646.9 675.9h0M691.3 461.4h0M787.8 316.2h0M781.2 209.2h0M515.7 547.6h0M1021.3 636.3h0M717 850.7h0M999.3 697.4h0M657.8 711h0M802.4 240h0M1053.7 658.9h0M505 394h0M595.9 666.2h0M827.9 221.6h0M670 921.4h0M774 218.7h0M732.8 856.3h0M982.5 675.5h0M336.1 792.2h0M1026.6 665.9h0M969.3 695.3h0M589.6 472.7h0M772.2 247.4h0M541 491h0M595.8 412h0M666.1 139.9h0M604.2 683.6h0M370.2 847.6h0M1043.8 729.8h0M1014 730.5h0M675.4 708h0M192.1 536.3h0M521.3 544.4h0M617.1 650.9h0M390.5 846.6h0M776.9 252.8h0M961.5 696.8h0M1048.5 645.8h0M763.7 598.8h0M936.2 762.8h0M962.3 751.2h0M430.8 415.8h0M466.5 425.2h0M592.4 387h0M391 734.5h0M793.7 267.5h0M762.1 242.7h0M663.1 146.3h0M342.2 849h0M189.8 543.2h0M820.3 235.6h0M181.9 551.3h0M1040.2 736.1h0M358.7 849.7h0M695.7 120.4h0M611.5 660.8h0M316.9 811.2h0M724.2 187.6h0M980.7 765.4h0M931.1 780.3h0M351 853.3h0M384.6 781.2h0M1061.8 648.3h0M187.4 563.7h0M911 543.6h0M863.2 364.8h0M980.8 747.1h0M254.5 496.6h0M959.7 754.8h0M216.2 517.3h0M1052.9 673h0M417.4 818.9h0M714.3 164h0M325.4 855.5h0M518 556.7h0M795 308.7h0M976.9 733.5h0M990.3 660.5h0M693.1 182.8h0M1021.9 723.6h0M436.3 867h0M486.1 554.5h0M1044.2 690h0M750 794h0M721 158.3h0M933.4 763.7h0M451.9 560.5h0M926.4 782.7h0M976.2 646.1h0M1011.1 702.4h0M465.7 569.2h0M539.5 244.9h0M336.9 728.5h0M1060.7 702.4h0M329.6 849.4h0M697.4 465h0M997.1 664.5h0M683.7 187.3h0M808 227.1h0M584.5 541.8h0M1026.2 658h0M508.1 550.5h0M1034.2 733.8h0M977 738h0M675.1 130.8h0M316.4 805.2h0M1026.5 741.2h0M1058.7 682h0M366.4 793.2h0M664.2 164.7h0M1051.6 677.3h0M387.2 829.8h0M656.3 240.9h0M987.7 722.2h0M1011.6 651.3h0M299.4 823.4h0M326.8 755.7h0M506 513.1h0M586 248.4h0M1040.9 736.6h0M809.7 783.6h0M600.2 465.6h0M986 641.4h0M934.4 763.9h0M737.3 847.5h0M620.9 877h0M1044.9 676.2h0M928.7 770h0M985.8 637.3h0M1030.7 689.7h0M675.5 148h0M1001.2 637.6h0M362.5 825h0M601.6 465.8h0M721.1 818.3h0M220.2 527.8h0M679.6 727.2h0M379.8 851.9h0M662.5 237.7h0M246.4 543.5h0M356.1 843.8h0M940.5 750.8h0M989 719.4h0M1001.1 709.8h0M706.8 159.5h0M492.4 528.3h0M484.9 495.7h0M939.9 774.4h0M940 763.6h0M1012.1 756.3h0M495 541.1h0M560.9 772h0M799.2 789.7h0M1022.5 682.8h0M438.2 857.2h0M395.9 840.2h0M1011.7 697.6h0M771.6 264.4h0M987.8 650.1h0M964.4 770.3h0M961.1 765.4h0M1048.9 717.7h0M598 724h0M651.1 704.2h0M553.2 230.1h0M943.1 750h0M984.5 739.8h0M578 249h0M743.7 604.5h0M794.2 278.8h0M950.7 711.1h0M767.5 245h0M930.9 701.4h0M395.5 860.2h0M805.4 283.2h0M658 447.4h0M979.1 715.1h0M1024.5 644h0M489.7 564.7h0M1043.5 644.6h0M220.5 524h0M169.7 542.8h0M923.7 766.6h0M748 545h0M959.9 633.5h0M978 686.1h0M391.2 406.1h0M598 464.3h0M1064.5 676.3h0M1017.9 680.5h0M901.8 555.8h0M1021.2 762.6h0M612.7 391.6h0M994 654.8h0M422.1 394.7h0M198.9 558.1h0M910.3 735.5h0M1037.8 663.5h0M694.8 458.9h0M743.1 193.1h0M1010.7 631.1h0M576 446.6h0M1018.3 624.1h0M812 306h0M746.4 239.9h0M1056.6 722.2h0M683.5 438.1h0M960.1 718.6h0M315.3 844.9h0M518.9 500.3h0M956 660.2h0M481.6 451.6h0M423.2 822.8h0M839.5 289.7h0M1000.3 769.8h0M484.3 544.8h0M199.5 549.8h0M914.6 539h0M915.9 726.4h0M720 839.1h0M413.9 817.1h0M821.2 237.8h0M369.3 723.7h0M361 821h0M612.1 390.4h0M1007.5 647.9h0M1007.9 701.5h0M756.1 554.2h0M706.5 849.8h0M693.2 131.7h0M503.7 540.6h0M1043.1 685h0M210.3 537.5h0M387.3 403.2h0M777.2 288.7h0M702 253h0M735.7 161.5h0M711.4 459.4h0M813.7 230.8h0M772.5 590.1h0M1051.2 680.4h0M982.5 627.4h0M1003 776.6h0M688.7 234.2h0M559.8 471.9h0M779.3 587.8h0M1023.7 661h0M747.6 801.6h0M620.3 414.5h0M436 1045.6h0M569.7 767.3h0M721 940.9h0M724.9 177.3h0M483.7 562.5h0M984 775.8h0M1002.9 699h0M1002 699.4h0M349.2 800.3h0M1027.4 664.9h0M337.1 769.9h0M1028.2 661.4h0M674.5 225h0M1008.8 633.4h0M375.1 823h0M989 762.3h0M708.8 179.9h0M777.6 589h0M335.5 746.1h0M1057 642.5h0M979.2 688.4h0M600.9 400.3h0M318.1 851.3h0M819.2 287.9h0M487.6 460.6h0M1026 688.6h0M619 442.9h0M995.7 679.6h0M389.9 841.4h0M786.1 306.2h0M396.9 836.9h0M947.9 762.3h0M676.9 167.5h0M977.6 642.8h0M931.5 781h0M182.4 562.4h0M1027.3 644.9h0M389 731.4h0M477.6 580h0M982 681.6h0M729.2 571.2h0M408.2 404.5h0M733.5 220.9h0M707.8 431h0M663.7 235.2h0M336.4 789.5h0M1024.3 658.2h0M678.3 137h0M163.8 557.4h0M1029.9 759.2h0M705.5 125.1h0M605.3 462.9h0M566.6 775.9h0M310.4 826.1h0M1053 682h0M579 242.6h0M797.6 280.4h0M666.7 694h0M733 591.7h0M1030.7 683.5h0M738.6 203.7h0M334.4 825.9h0M1016.4 740.7h0M454.4 554.5h0M881.1 377.3h0M329.5 771.2h0M982.5 743.9h0M338.6 762.3h0M335.8 848.5h0M934.4 756h0M1035.1 636.6h0M1057.5 719.1h0M971.4 761.2h0M969.3 652.7h0M631.5 660.6h0M985.2 623.8h0M714 150.1h0M994.6 767.8h0M482.8 555.3h0M798.3 278.2h0M220.7 515.5h0M956.8 777.7h0M399.6 861.3h0M300.1 836h0M801.4 281.1h0M666 458h0M519.9 500.4h0M508.4 565.4h0M516.5 553.5h0M621 469.4h0M985.3 640.5h0M666.7 116.7h0M933.6 773.9h0M1025.5 727.7h0M474.9 435.4h0M294 816.8h0M981.2 756.9h0M340.2 766.9h0M1013.6 694.5h0M693 142.3h0M998.4 735.6h0M321 776.5h0M940 680.5h0M755.4 219h0M551.8 222.9h0M969.4 729h0M996.9 629.7h0M785 217.8h0M916.8 536.1h0M1036.1 644.6h0M762.5 249.8h0M912.9 739.4h0M1032 648.3h0M195.2 541.7h0M213.5 559.6h0M381 739.3h0M414.3 831.6h0M602.5 463.2h0M559.6 224.7h0M1028.9 760.7h0M480.2 541.3h0M767.1 601.7h0M794.4 284.1h0M1016.9 646.8h0M447.6 563.5h0M974.8 707.5h0M720.3 464.9h0M973.3 656.6h0M956.4 703h0M672.6 220.5h0M674.1 124.6h0M458.1 563.9h0M1012.2 712.6h0M356.6 856.4h0M436.8 844.7h0M929.5 640.8h0M402.8 396.8h0M621.6 673h0M963.6 702.1h0M1000.2 690.1h0M662.5 153.4h0M455.1 860.2h0M1024.3 653.4h0M1055.1 681.5h0M758 569h0M696.8 456.6h0M955 763.2h0M556.3 220.8h0M615.4 426.1h0M1028.3 654h0M502.6 552h0M971.3 690.5h0M984.3 706.3h0M669.3 149.9h0M610.8 783.6h0M571.8 220.3h0M583.3 468.5h0M676.1 185.9h0M1023.5 677.4h0M986.7 717.4h0M670 695.6h0M577.5 470.2h0M660.6 428h0M594.3 464.6h0M984.8 761.2h0M703.7 241.3h0M169.1 534.4h0M895 569h0M623.9 676h0M994.3 756.1h0M400.6 407.8h0M602.7 680.6h0M957.1 769h0M749.6 575.2h0M1007.5 750.3h0M710.4 941.3h0M349.1 781.7h0M1006.5 684.3h0M736.2 155.2h0M969.4 650h0M711 435.2h0M966 733.5h0M704.8 579.8h0M337 747h0M985.3 753.5h0M971.2 689.5h0M597.6 230.8h0M458.3 861.3h0M1052.9 686.7h0M512.6 459.8h0M807.8 225.6h0M820.3 278.6h0M983.8 687.6h0M462.4 572.3h0M969.7 716.1h0M624.5 663.2h0M975.9 640.6h0M972.9 653.3h0M804 787.1h0M485.9 589.9h0M1033.3 651.4h0M541.8 229h0M1011 774.5h0M1022 686.7h0M971.9 736.3h0M719.6 136.8h0M674.1 133.7h0M1067.2 668.4h0M922.5 708.2h0M637.2 663.9h0M320.3 859h0M1024 657.9h0M451.2 566.3h0M637.5 420.3h0M1057.5 654.3h0M985.4 645.1h0M765.1 245.4h0M651.1 691.4h0M860.5 366.9h0M560 493.6h0M380.3 837.4h0M609.2 388.1h0M1060.7 704.6h0M381.8 411.2h0M688.5 151.2h0M721.3 826.8h0M365.7 808.3h0M669 712.1h0M624.6 409.1h0M1009.7 738.2h0M923.5 370.5h0M334.2 839.6h0M1024.6 717.8h0M496.2 868.1h0M1003 759.8h0M745.2 840.6h0M413.8 825.7h0M1032.4 754.2h0M572.4 503.6h0M487.3 876.1h0M755.5 551.9h0M773.8 203h0M982.1 670.4h0M969 730.4h0M926.6 706.9h0M782.7 587.6h0M732.7 179.2h0M326.1 863.1h0M700.4 442.7h0M779.6 259.5h0M545.7 218.5h0M717.9 192.2h0M461.9 554.5h0M498.2 504.5h0M740.8 841.1h0M255.5 498.4h0M672.1 223.9h0M1023.4 708h0M720.9 470.3h0M345.2 766.1h0M773.8 296.4h0M620.8 875.5h0M572.4 474.6h0M444.4 543.2h0M690.4 448.1h0M561.8 220.5h0M966.5 708.7h0M978.5 707.7h0M997.4 677.4h0M668.8 149.3h0M393.3 397.2h0M170.8 538.3h0M1003.7 662.3h0M709 466.6h0M1062.4 653.3h0M1046.6 663.8h0M693.8 443.9h0M363.3 779.1h0M757.9 601.7h0M601.4 718.4h0M463.4 538.7h0M1037.1 698.5h0M991.7 693.3h0M212.2 548.6h0M789.4 270.4h0M355.8 791.9h0M973.2 747h0M966.6 777.3h0M449.1 843.9h0M1028.2 645h0M1005.5 704.6h0M1021.6 700.6h0M738.3 602h0M213.8 573.8h0M1006.3 760.4h0M792.3 277.3h0M738.6 185.9h0M949.6 691.2h0M211.7 534.6h0M959.9 670.7h0M323.3 826.1h0M388.7 855.2h0M770.3 299.6h0M357.9 723.2h0M691.3 152h0M448.2 850.1h0M1041.4 642.2h0M1045.6 724.5h0M992.2 751.1h0M958.5 774h0M805.4 223.6h0M178.6 519.5h0M689.6 135.2h0M676 223.8h0M993.9 623.1h0M678.4 212.5h0M962.2 635.5h0M731.2 145.8h0M499.6 561.1h0M645.6 664.3h0M294.6 816h0M165.2 566h0M621 408h0M975 686.1h0M800.2 316.8h0M1046.3 649.9h0M734.4 595.1h0M930.6 758.1h0M701 151.2h0M1062.5 679.3h0M690.6 142.3h0M341.9 715.3h0M1018.2 738.2h0M625.6 670.6h0M546.4 477.1h0M697.1 456.2h0M318.8 777.7h0M803.2 289.4h0M697.1 454.2h0M330.5 823.9h0M309 809.3h0M687 126.6h0M1026.6 664.1h0M224.8 533h0M565.4 249.4h0M976.8 632.3h0M350.9 721.5h0M395 780.7h0M681.4 737.9h0M1007.5 717.4h0M398.4 803.8h0M1042.1 678.5h0M424 399.4h0M1050.6 673.9h0M363 818.4h0M1038.9 714.6h0M307.3 824.3h0M691.5 125.8h0M676.4 183.4h0M1013.1 736.3h0M629.9 415h0M959.8 713.6h0M968.7 720.3h0M779.3 306.1h0M507.2 559.3h0M1009 619.4h0M398.7 413.7h0M612.5 691.8h0M414.8 814.8h0M215.2 569.1h0M190.4 541.3h0M791.5 277.6h0M342.6 796.5h0M198 539.9h0M973.6 709.2h0M831.5 290.2h0M200.4 545.5h0M711.6 175.7h0M489.7 529.9h0M665.1 148.8h0M992.8 678.6h0M1017 662.8h0M938.8 743.7h0M408.6 398.1h0M1018.6 630.8h0M714.5 166.9h0M718.8 466h0M506 517.6h0M465.7 854.8h0M447.5 445.5h0M452.3 562h0M737.6 595.9h0M1007.4 621.5h0M1047.2 704.4h0M1035.3 693.8h0M967.6 665.5h0M972.6 703.4h0M1042.6 731.5h0M685.4 428.1h0M654.3 245.3h0M354.6 809.6h0M180.5 525.3h0M768.5 262.5h0M954 732.8h0M813.4 285.2h0M964.4 652.6h0M332.5 751.4h0M328.9 818.6h0M361.4 724.3h0M991.9 665.1h0M442.6 546h0M1015.4 680.5h0M749.7 232.5h0M637.8 245.4h0M1037.5 662h0M919.4 772.1h0M958.9 718.2h0M984.6 641.8h0M332.7 745.4h0M1041.3 641.4h0M664.7 118.6h0M980.4 630.5h0M475.6 462.5h0M935.8 690.9h0M998.8 694.7h0M412.4 829.9h0M985.8 649.6h0M452.4 864.7h0M295.3 819.3h0M505 452.5h0M972.5 664.8h0M438.9 844.9h0M317.8 857.6h0M785.7 219.2h0M675.9 734.9h0M999.9 701.7h0M518.2 541.2h0M325.9 775h0M607.8 408.1h0M721 192.9h0M817 310h0M490 524.3h0M898.4 590.9h0M960.7 679.5h0M428.1 416.6h0M963.9 748.6h0M176.7 547.7h0M729.9 126.2h0M713.5 449.2h0M393.3 427.4h0M355.3 766.7h0M1020.1 653.8h0M902.5 371h0M706.7 158.9h0M722.9 151.1h0M986.1 706h0M699.5 470.2h0M327.2 799h0M1047.5 663.5h0M984.7 645.1h0M999.2 774.7h0M1028.6 644.6h0M788.9 312.1h0M355.7 718.3h0M659.9 695.8h0M1003 759.4h0M356.8 844.3h0M697 200h0M976.9 630.1h0M953.2 685.6h0M972.1 742.5h0M794.2 226.3h0M927.5 755.4h0M643.8 423.2h0M988.7 766.2h0M725.2 448.7h0M788.1 209.5h0M999.8 666.9h0M387.5 839h0M409.6 808.2h0M623.6 408.5h0M967.2 659.9h0M751.8 605.7h0M965.5 703.6h0M386.6 809.9h0M332 810.7h0M477.8 461.1h0M498.2 561.3h0M655.4 979h0M770.2 595.6h0M605.2 430.7h0M186.1 544h0M730.8 598.8h0M381.1 850.3h0M927.1 695.8h0M734.1 181h0M614 406.5h0M168.3 536.6h0M1011.1 714.8h0M329.8 794.3h0M1021.3 750h0M488.5 541h0M291.2 820.2h0M701.2 173.3h0M398 423h0M511.1 878.3h0M464.3 582h0M257.9 535.1h0M940 770.8h0M248.2 517.7h0M1009.5 664.8h0M1012 736.4h0M676 116h0M514.7 552.2h0M653.1 684.9h0M385.7 817.7h0M672.9 153.4h0M906.5 544.5h0M728.4 155.2h0M986.8 674.9h0M440.6 413.7h0M800 266h0M364.7 778.2h0M1028 753.4h0M554.6 228.1h0M928.4 783.4h0M363.9 847.9h0M464.6 421.2h0M780.6 303.8h0M1033.2 734.3h0M719.4 592.8h0M1009.1 650.1h0M332.1 763.4h0M365.6 793.8h0M337 779.3h0M993.2 720.8h0M473.2 459.7h0M487.2 554.8h0M706 154.1h0M688.2 426.7h0M430.4 396.5h0M752.4 266h0M339.2 747.2h0M1024.8 647.1h0M169.1 524.5h0M592.6 548.5h0M553.1 223.9h0M315.7 782.9h0M770.7 264.3h0M1009.3 650.2h0M1043.9 731.7h0M711.9 159.9h0M401.4 838.3h0M768.4 600.8h0M739.7 853.9h0M437 533.2h0M756 281.4h0M729.2 453.6h0M940.5 777.3h0M992.6 775.2h0M948.5 753.4h0M895.1 571.2h0M669.9 154.4h0M1001 625.7h0M404.9 424.5h0M1005.4 740.6h0M809.9 228.5h0M971.5 720.7h0M750.3 554.1h0M706.2 192h0M995.2 682.5h0M977.8 738.9h0M1043.2 728.9h0M362.8 726.9h0M677.7 723h0M984.4 760.6h0M441.3 575.8h0M999.3 636.2h0M707.8 442.1h0M1005.9 697.3h0M968.4 366.8h0M1006.3 672.8h0M552.4 230h0M594.6 669.6h0M708.1 454.1h0M559.6 521.3h0M723.9 463.7h0M1022.9 741.7h0M1000.6 674h0M575.8 226.5h0M691.4 930h0M349.8 772.3h0M180.3 559.5h0M1007.5 618.3h0M392.5 872.1h0" stroke="#d3d3d3"/>
<path d="M878.2 372.1h0" stroke="#c5b6dc"/>
<path d="M939.7 739.5h0M731.3 187.6h0M772.3 240.9h0M717.9 203h0M692.1 161.6h0M936.8 675.8h0M328.2 773.8h0M188.4 535.4h0M316.4 809.5h0M774.9 205.4h0M386.4 740.7h0M481.2 582.4h0M1004.3 661.8h0M724.6 218.8h0M175.8 556.1h0M373.6 762.3h0M1029.6 692.6h0M778.7 222.6h0M336 857.5h0M751.2 197.3h0M411.1 810.8h0M555.7 772.4h0M562.5 763.9h0M508.9 874.1h0M1025.9 766.6h0M358 793.4h0M1058.9 669.4h0M823.1 281.2h0M766.6 231.6h0M215.7 527.3h0M347.3 837.6h0M361.7 745.1h0M401.5 849.9h0M328 745.9h0M1067.3 664.7h0M405.3 842.3h0M344.9 793h0M1007.1 741.4h0M732.3 225.9h0M211.4 566.7h0M811.4 793.6h0M732.8 147.2h0M987.8 657.6h0M676.4 250.2h0M831.8 290.9h0M229.6 545.8h0M737.1 178.8h0M341.4 814.4h0M958.4 367h0M429.2 543.1h0M836.7 296h0M759.6 224.4h0M339.2 811.2h0M351.9 848.5h0M367.7 726.2h0M809.2 788.7h0M486 870.5h0M356.8 797.9h0M724.1 230.2h0M178.1 565.1h0M374.5 758.6h0M697.8 118.3h0M721.5 845.8h0M344.8 797.4h0M179.3 553.6h0M386 758.4h0M234.3 532.6h0M390 807.6h0M1017.7 684.7h0M426.9 833h0M352.8 851.8h0M995.7 718.8h0M301.4 856.2h0M675.9 125.9h0M505.7 878.3h0M466.8 850.1h0M808.8 278.9h0M927.2 366.8h0M474 459.8h0M368.7 838.6h0M178.6 526.1h0M735.5 197.2h0M1036 722.5h0M502.6 549.8h0M502.2 545.7h0M728.7 178.4h0M633.4 920.9h0M202 525.3h0M721 175.9h0M810.3 284.3h0M957.8 750.6h0M717 131.7h0M713.2 192.2h0M724.4 220h0M1054 701.7h0M819 233h0M806.1 223.4h0M675.3 214.3h0M661.5 691.7h0M1057.7 704.9h0M408.3 836.3h0M965.1 649h0M333.6 817.9h0M665.1 134.4h0M302.4 841.6h0M495.1 351.4h0M398.2 778.7h0M674.3 703.8h0M329.3 781.3h0M603.4 654.2h0M169.5 552.3h0M674.2 717h0M1018.7 637h0M747.1 201.1h0M1004.8 624.1h0M184.1 556.8h0M633.4 921.7h0M171.2 549.1h0M987.1 721.1h0M925.1 781.7h0M666 691.4h0M631.4 922.6h0M643.5 686.2h0M361.2 783.7h0M376.9 833.5h0M720.4 839.6h0M225.5 540.2h0M493.9 867.3h0M303.4 854.3h0M440.1 525.3h0M314.8 790.1h0M715.6 196.2h0M991.3 724.6h0M353.2 785.8h0M169.3 559h0M292.4 828.7h0M727.7 206.3h0M508.8 532.4h0M728.5 164.3h0M1022.7 736h0M230.8 540.9h0M391.6 798.9h0M484.4 357.2h0M330.2 788h0M706.1 178.3h0M813.4 288.3h0M444.6 859.6h0M683.3 239.3h0M324.8 843.5h0M353.7 760.7h0M305 824.1h0M343.6 804.6h0M961.1 710.6h0M365.9 766.1h0M721.4 132.7h0M994.7 665.4h0M746 197.7h0M1048.5 667.2h0M1052 658.2h0M218.7 512h0M923.5 403.1h0M493.2 345.1h0M693.4 144.3h0M663.3 145.7h0M671.8 124.8h0M923.5 773.2h0M161.8 550.3h0M618.5 663.3h0M488.3 350.3h0M308.6 816.5h0M559.2 782.7h0M341.5 854h0M993.1 753.1h0M700.3 126.1h0M321.6 748.9h0M192.8 507.5h0M354.8 849.2h0M231.8 520.8h0M613.2 679.7h0M639.2 660.6h0M721.3 850.6h0M640.4 242h0M487.4 495.1h0M496.8 871.5h0M955 770.9h0M1020.7 642.2h0M724.7 857.2h0M809.8 219.6h0M301 836h0M989.9 688.4h0M516.8 452.9h0M208.6 536.9h0M612 689.7h0M445.8 560.7h0" stroke="#c1afde"/>
<path d="M1045 675.1h0M1004 664.9h0M187.9 520.3h0M989 711.8h0M167.1 549.1h0M389.9 738.2h0M490 589.2h0M627.9 671.5h0M692.1 177.5h0M706.3 146.5h0M230.9 508.8h0M1040.4 681.2h0M490.5 864.8h0M235.2 538.4h0M703.3 175.6h0M632.4 921.5h0M677.6 156.1h0M714.5 149.3h0M928.4 397.8h0M1059.5 652.8h0M890.7 374.7h0M392.4 816.7h0M828.8 277.4h0M315.7 803.9h0M446.5 853.2h0M395.4 846.6h0M172.1 543.6h0M727.8 722.4h0M353 767.7h0M677.3 717h0M889.3 372.1h0M463.6 446h0M776.5 245.5h0M930.9 712.6h0M662.2 117h0M768.8 255.2h0M515.4 450.2h0M314.3 794.2h0M370.1 752.5h0M747.3 193.5h0M728.3 237.6h0M727.1 223.3h0M485.5 346.1h0M342 843.5h0M1005.3 764.2h0M750 213h0M723 211.2h0M180.8 554.1h0M362.8 733.2h0M977.5 764.5h0M832.6 295.6h0M424.5 837.2h0M373.3 837.8h0M1011.2 646.7h0M257.2 531.1h0M971.2 644.6h0M481 870.3h0M1009.2 618.9h0M1046.8 690.1h0M461.4 442.5h0M601.2 682.9h0M710.3 138.3h0M398.4 806.4h0M579.8 774.6h0M465.8 867.4h0M365.7 842.4h0M184.2 566h0M778.6 203.1h0M828.4 279.8h0M313.7 845.3h0M830.1 293.8h0M557.3 770.4h0M726.5 201.9h0M980.6 761.3h0M334.4 787.5h0M219.5 541.5h0M695.3 178.3h0M1054.9 646h0M609.5 682.7h0M615 701h0M709.1 855.9h0M925.2 778.5h0M626.8 924.3h0M496.2 867.4h0M993.7 621.7h0M676.6 144.9h0M315.9 765.3h0M726.8 720.9h0M167.4 536.1h0M726.9 180.9h0M687 157.9h0M421.3 826.8h0M982.8 753.8h0M703.7 856.5h0M394.6 859.7h0M722.9 205.8h0M191.9 536h0M1021.4 685.6h0M1002.6 758.6h0M669.4 694.8h0M940.7 741.8h0M758 211.5h0M1037.6 727h0M383 818.3h0M342.8 842.2h0M927.6 397.7h0M508 871.3h0M490.1 355.7h0M720.1 142.2h0M710.5 191h0M1014.1 705.9h0M1044.7 641.2h0M471.5 558.2h0M562.4 771.6h0M668.3 117.9h0M339.9 722.2h0M810.4 791.2h0M486.1 461.7h0M789.9 269.1h0M474.3 452.5h0M1049.7 676.6h0M319.7 844.9h0M976.1 774.4h0M924.9 399.4h0M516.5 522h0M435.5 529.9h0M966.5 657.5h0M335.7 758.5h0M194.5 513.2h0M708.2 149.4h0M521.6 498.4h0M665.7 160.8h0M545.1 479.6h0M472.2 548.7h0M700.7 138.4h0M661.1 247.1h0M723.7 207.7h0M1052.4 656.4h0M1057.6 680h0M1061.8 656.3h0M348.7 728.3h0M692.7 142.8h0M955.5 761h0M1049.3 696.6h0M1035.2 683.9h0M196.2 532.5h0M297.8 839h0M393.8 850.9h0M729.4 718.8h0M504.9 876.8h0M1050.8 644.3h0M660.9 120.8h0M357.8 829h0M482.7 869.2h0M663.5 688.9h0M902.8 369.9h0M293.3 841.8h0M1032.1 737.1h0M668.4 717.2h0M628.7 692.7h0M357 755h0M870.2 371.8h0M794.8 222.4h0M1010.2 623.9h0M697.4 182.4h0M323.5 802.4h0M937.1 390.8h0M391.8 849.8h0M368.4 793.7h0M174.9 540.3h0M399.9 800.5h0M725.9 223.9h0M168.7 555.5h0M704.7 176.1h0M914.7 744.1h0M661.2 145.6h0M422.4 816.7h0M748.1 198.7h0M216.2 549.2h0M933.7 369.2h0M503.2 867.9h0M307.9 785.8h0M1060.7 684.3h0M665.5 250.2h0M323.5 756.8h0M503.7 874.6h0M829.7 295.1h0M965.2 773.7h0M498.2 868.1h0M319.3 851.1h0M921.9 375.9h0M1002.2 623.6h0M902.5 368.8h0M364.1 790.3h0M914.2 368.6h0M208.4 546.4h0M820.4 295h0M215.6 559h0M634 921.2h0M345.3 779.3h0M351.2 742.1h0M218.4 539.2h0M684.4 112.8h0M702.2 157h0M202.9 555.4h0M680.9 188.5h0M696.1 241h0M826.3 293.5h0M871.8 372.6h0M670.3 124.1h0M918.7 376.7h0M360.1 744.1h0M678.4 249.6h0M1047.8 703.7h0M992 674.5h0M436.2 854.9h0M207.5 517.4h0M569.2 772.4h0M676.9 187.6h0M175.1 530.6h0M366.1 723.1h0M604.5 660.9h0M977 771.5h0M393.2 812.2h0M721 842.6h0M381.5 778.1h0M943.3 740.3h0M338.3 756.7h0M321.4 859.4h0M325.3 830.8h0M636.9 702.5h0M721.7 846.6h0M485.9 871.2h0M698.7 238.6h0M730.8 211.4h0M633.2 683h0M654.8 687.1h0M338 774.7h0M225.8 514.8h0M713.8 860.1h0M965.7 720.8h0M318.3 846.2h0M198.1 525.3h0M195.8 528.5h0M363.3 775.2h0M345.9 788.5h0M724.6 129.4h0M377.5 802h0M1061.6 683.8h0M487.4 353.5h0M483.8 542.8h0M256.4 534.1h0M205.1 542.4h0M363.2 752h0M554.6 773.6h0M331.5 742h0M359.1 802.9h0M728.8 202.6h0M723.2 187.6h0M718.2 851.5h0M335.4 787.9h0M384.2 810.4h0M340.9 746.6h0M333.3 787.9h0M960.6 726.7h0M829.4 299.1h0M332.1 794.1h0M332.9 825.4h0M1048.6 709.2h0M534.4 485.5h0M369.9 849.8h0M322.7 743.9h0M654.1 240.1h0M871.6 368.9h0M728 134.4h0M225.6 541.1h0M839.3 296.3h0M338.6 804.5h0M945.9 780h0M492.3 869.6h0M712.2 121.3h0M965.6 678h0M625.2 463.7h0M655 710.9h0M804.6 227.5h0M675.2 731.7h0M607.1 695.9h0M600.8 398.8h0M384.5 739.5h0M322.6 824h0M157.9 540.3h0M330.9 862.9h0M680.3 188h0M486.2 871.7h0M324.8 782.2h0M313.6 819.2h0M483.1 868.4h0M552.5 765.9h0M483.3 872.3h0M933 781.4h0M995.5 697.3h0M448 446.7h0M974.9 683.4h0M385.5 767.3h0M450.2 555.6h0M375.1 844.7h0M970.7 636.3h0M563.7 779.3h0M702.8 126.8h0M187.5 553.6h0M741.6 194.4h0M341.7 782.4h0M348.2 785.3h0M380.2 827.1h0M1011.4 707.3h0M702.2 232.5h0M699.8 172h0M965.2 770.6h0M701.2 237h0M754.5 240h0M608 647.8h0M1060.6 695.3h0M999.8 735h0M877.2 368.7h0M945.4 676.6h0M1000.6 678.7h0M328.4 829.9h0M386.1 741.1h0M679.3 119.5h0M926.8 399.4h0M370.5 827.7h0M809.2 282.2h0M496.8 881.9h0M491.6 865.9h0M511.7 559h0M945.7 375.8h0M314 848.9h0M811.6 291.8h0M639 674.2h0M972.5 766.4h0M1055.2 671.2h0M668.3 132.4h0M381.6 739.3h0M543.4 471.8h0M980.5 693.9h0M511.4 874.9h0M269.6 533.9h0M798.1 217.8h0M344.3 774.6h0M551.7 771.3h0M483.5 869.4h0M481.5 872.3h0M157.1 550.7h0" stroke="#bda8e0"/>
<path d="M408.4 397.2h0M247 507.5h0M584 452.6h0M380.9 739h0M489.5 867h0M556 483.2h0M751 792h0M685.6 155h0M693.1 233.8h0M363.3 812.4h0M519.6 976h0M293.6 842.2h0M991 628.3h0M309.5 809.3h0M1001 677.3h0M734.4 717.3h0M902 374.4h0M521.2 989h0M517 1018.6h0M635.6 912.4h0M831.5 295.6h0M978.8 671h0M446.1 545.3h0M913.7 707.9h0M572 532h0M335.9 797.4h0M441 1042.4h0M187.6 567.1h0M936.1 746.6h0M716.8 158.9h0M741.4 541.4h0M721.8 216.4h0M710.5 241.5h0M367.6 825.3h0M897.4 372.6h0M346.2 795.7h0M601.3 656.8h0M675.4 448.4h0M932.8 368.3h0M685.8 137.8h0M951.9 369.3h0M336 856.5h0M814.5 232.9h0M227.5 578.8h0M190.6 554.2h0M780.3 270.9h0M703.6 238.1h0M687.8 175.7h0M659 917.4h0M923.2 368.4h0M638.1 685.3h0M596.6 713.6h0M343.7 855.5h0M207.6 563h0M946.7 756.4h0M636.6 902.6h0M936.7 359.3h0M1013.8 727.8h0M596.4 721.6h0M863.8 366.5h0M921.9 366.6h0M604.3 397.8h0M239.5 528.8h0M612 853h0M592.5 394.4h0M652.3 663.2h0M556.9 771.6h0M517 465h0M735.8 195.3h0M511.9 554.4h0M939.4 673.3h0M741.8 206.8h0M334 785.5h0M656 916.8h0M326.7 771.2h0M541 227h0M153.6 546.2h0M531.7 1003.3h0M923.5 377.6h0M751.2 792.4h0M378.7 727h0M442.6 861.3h0M353.4 822.9h0M711 462.2h0M1011 666.5h0M1004.3 688.7h0M321.9 806.5h0M900.2 367.9h0M520 1016h0M941.9 780.8h0M975.7 695.5h0M735.8 716.6h0M414.7 814.2h0M356.2 755.7h0M774 632.2h0M323.2 780.5h0M453.4 411.4h0M646.4 706.3h0M343.5 830.5h0M384.6 738.7h0M834.3 292.8h0M672.1 151.4h0M672.4 128.8h0M954.5 755.6h0M322.4 744.4h0M491.7 546.8h0M826.8 222.5h0M526 1011h0M587 468h0M985 658.2h0M331.4 816.3h0M929 375.6h0M622.4 878.6h0M322.5 855h0M347.1 805.5h0M1021.4 735.8h0M927.9 399.6h0M733.5 716.9h0M311.7 808.4h0M608.8 649.6h0M935.8 393.8h0M874.8 369.5h0M342.6 717.4h0M532.6 995.8h0M628.6 889.6h0M997 636.2h0M608.6 844.4h0M394 419.6h0M563 499.4h0M527.4 526.4h0M986.2 736.6h0M347.2 767.4h0M1051.5 679.3h0M718.6 463.2h0M228.6 548h0M1018.1 752.4h0M919.3 370h0M585.4 466.4h0M341.2 837.6h0M759.7 198.9h0M796.3 284.6h0M581 774h0M492.4 874.3h0M653.3 663.4h0M655 425.6h0M741.1 150.9h0M905.6 372.4h0M730 144.1h0M356.6 749.7h0M922.7 768.4h0M704.4 858.6h0M248.5 527.3h0M349.6 782.4h0M679.6 162.3h0M312.3 776.4h0M351.9 724.1h0M824.7 292.3h0M889.2 369.9h0M903.6 558.2h0M692 436h0M917 537.4h0M240.2 539.6h0M176.1 557h0M806.4 787.4h0M364.1 747.3h0M440.7 841.2h0M575.6 535.6h0M723 845.2h0M961.1 361.6h0M774.9 263.2h0M929.7 366.5h0M338.4 731.3h0M954.8 767.1h0M932.1 368.4h0M594.6 450.4h0M711.4 937.4h0M509 400.6h0M507 507h0M952.9 368.2h0M908.9 373.4h0M550.4 483.2h0M916.6 368.3h0M1051 727.2h0M763 231.7h0M741.4 541.4h0M484.6 355.7h0M899.3 367.8h0M368.7 844.6h0M868.4 371.6h0M507 399h0M812.6 220.1h0M776.4 566.8h0M585 543h0M879 374.8h0M723.9 224.2h0M587 468h0M520 1014.2h0M422.9 854.3h0M648.7 698.9h0M332.6 771.6h0M912.6 540.8h0M903 373.7h0M437.8 845.1h0M410.4 440h0M922.1 374h0M1017.4 715.6h0M944.6 364.4h0M529.2 1005.8h0M634.4 918h0M528 519.6h0M937.2 751.9h0M710.4 722.6h0M821.5 296.4h0M260.1 536h0M439 1043.6h0M643.5 688h0M729.9 720h0M371.1 776.9h0M743.3 207.1h0M776.4 566.8h0M608.6 844.4h0M324.3 839.6h0M886.6 373.9h0M710.4 722.6h0M989.9 776.8h0M907.3 371.9h0M490.1 864.6h0M328.7 756.1h0M401.7 848h0M1006.6 709.4h0M954.9 745.3h0M162.4 564h0M727.7 212.5h0M1010.7 698.9h0M698.4 455.6h0M642 434.8h0M713.3 136.1h0M604.7 697.5h0M633.1 660.8h0M821.5 219.5h0M962.6 685h0M1031 733.2h0M490 344.3h0M584 453h0M234.4 554.1h0M350.5 801.1h0M492.7 864.7h0M749 552h0M327.5 756.5h0M591 466h0M568 218.4h0M497.6 541.4h0M932.3 760h0M724.8 720.8h0M711.4 444.4h0M472 515.4h0M901.7 375.3h0M695.4 931.8h0M309.8 791.7h0M519.6 973.6h0M569.6 529.6h0M803.6 217.5h0M1061.6 654.7h0M971.9 643.6h0M351.3 816.9h0M612 853.2h0M525.6 491.4h0M352 762.8h0M237.5 553.5h0M360.4 843.9h0M749 552h0M611.6 460.6h0M774.1 218.9h0M325 782.4h0M333 752.8h0M504.3 550.3h0M906 546.2h0M1026.6 660h0M938.6 373.9h0M509 400.4h0M524.2 1010h0M511.8 565.4h0M949.1 746.9h0M383 818.4h0M657.4 694.3h0M1018.9 722.9h0M504.5 882.5h0M534 494.6h0M563 499.4h0M531 1003h0M823.6 295.9h0M528 1012h0M965.7 727.8h0M323.4 859.6h0M529.6 1006h0M1038.5 663.1h0M787.1 216.1h0M592.4 548.4h0M528 988.2h0M802 285.5h0M989.7 760h0M644 434h0M507 399.6h0M645.6 698.9h0M526.7 1008.3h0M672.6 703.4h0M485.4 872.9h0M764.5 215.2h0M704.4 462h0M715.6 172.2h0M565.6 525h0M837.4 288.7h0M706 455.6h0M350.4 745.9h0M591.6 466h0M254.5 527h0M707.4 435.2h0" stroke="#b9a1e1"/>
<path d="M801.6 787.1h0M330.9 830.4h0M605.1 659.9h0M328.4 797.2h0M313.2 848.3h0M928.6 671.5h0M378.7 782.2h0M658.6 141.6h0M370.3 757.7h0M603.2 667.8h0M506.7 875.2h0M683.2 172.1h0M539.4 322h0M358.5 730.9h0M752.8 216.9h0M502.8 537.2h0M978.4 642.5h0M719.1 131.4h0M338.5 792.5h0M729 228.3h0M511.2 879.4h0M723 139.6h0M854.2 361.6h0M740.2 211.4h0M697.2 438h0M658.5 702.1h0M321.3 750.7h0M545.4 475h0M573 248.4h0M982.1 656.2h0M421.3 828.6h0M359.9 799.5h0M977.6 729.4h0M926.6 401.6h0M605 453.9h0M963.6 377.1h0M401.7 851.7h0M472.2 451.5h0M960.2 365h0M960.1 373.5h0M373 824h0M947 381.1h0M672 254.5h0M929 370.1h0M241.7 548h0M917.5 371h0M730 182.4h0M755.2 554.4h0M411 824.3h0M912.4 370.3h0M958.7 369h0M198.6 541h0M969.9 367.5h0M341.5 844.5h0M201.9 545.5h0M823.7 297.2h0M505.2 876.8h0M943 369.2h0M385.5 777.5h0M337.6 805.3h0M952 362.6h0M1062.6 659h0M797.9 216h0M481.6 543.1h0M927.4 398h0M981.6 678.8h0M713.1 175.4h0M831.3 296.9h0M975.9 649.7h0M177.3 556.5h0M932.8 394.6h0M560.1 769.1h0M953.7 373.9h0M825.8 298h0M674.4 708.5h0M594.6 450.4h0M921 373.5h0M606.6 666.6h0M362.3 722h0M930 396.7h0M616.4 670.2h0M573.3 772.3h0M1041.4 661.2h0M588.2 433.9h0M1057.4 693.3h0M494.8 457.4h0M354.9 793.7h0M1005.3 731.6h0M714 169.8h0M301.4 827.7h0M970.9 372.9h0M755.2 554.6h0M346.5 730.8h0M691.6 119.9h0M808.4 793.5h0M820.5 229.1h0M1030.5 640.4h0M931.3 395.5h0M324.7 861h0M1011 770.8h0M961.6 378.6h0M644.5 667h0M788.7 212h0M876.9 368.8h0M731.7 210h0M823.4 298.4h0M689.9 172.9h0M633.3 922.8h0M1060.3 651.6h0M747 218.8h0M864.6 365h0M725 223.2h0M898.2 374.9h0M929.8 755.9h0M353.6 819.6h0M704.5 165.6h0M432.9 566h0M320.7 852.2h0M367.8 736.4h0M931.6 366.2h0M315.4 854.6h0M725.6 219h0M884.6 373.1h0M358.3 814.9h0M902.2 374.1h0M1062.2 656.2h0M353.4 724.5h0M1033.4 687.4h0M412.3 833.1h0M948.9 379.4h0M733.2 159.1h0M724 857.7h0M377.1 846.9h0M936.5 363.6h0M407.2 839.4h0M317.3 799.9h0M817.4 293.6h0M659.2 983.6h0M315.6 791.7h0M568.2 468.6h0M878.1 374.1h0M607.4 703.6h0M977.8 642.8h0M1065.4 667h0M933.7 371.8h0M934.1 354.2h0M924.8 372.2h0" stroke="#b59ae3"/>
<path d="M736 275h0M572.3 777.9h0M967.9 679.1h0M1015.7 716.4h0M968.8 368.2h0M453.2 838.5h0M743.6 218.5h0M941.7 365.3h0M328.7 771.8h0M728.3 216.4h0M675.5 217.7h0M338.3 771.6h0M962.8 760.2h0M382.2 794h0M717 180h0M658 982h0M975 633.2h0M955.7 759.8h0M963.4 363.8h0M951.9 380.3h0M690 195.6h0M932.9 366.8h0M191.9 553.9h0M734.3 716.9h0M389.6 844h0M366.4 844.1h0M489.6 869.7h0M726.6 594.6h0M925.1 374.7h0M625.7 668.1h0M495.7 512.7h0M711.7 847h0M714.8 844.4h0M397.7 833.4h0M935.4 359.5h0M1005.1 736.5h0M978.3 711.6h0M316.1 773.8h0M943 361.9h0M328.5 771.7h0M710 222h0M931.8 368.8h0M925.4 375.4h0M675.5 725.7h0M461.4 861.7h0M609.3 459.3h0M812 316.4h0M699.4 429.8h0M964 368.4h0M960.2 370.5h0M957.9 365.8h0M813 294.3h0M948.1 362.4h0M923.2 377h0M606.7 692.4h0M411.4 821.5h0M337.8 858.3h0M966.5 690.3h0M969 367.8h0M1005.7 697.5h0M646.6 668.9h0M529.8 487.5h0M926.8 400.4h0M593 726h0M296.5 823.6h0M249.8 546.8h0M318.1 806.7h0M723.7 139.4h0M638.2 680.1h0M943.3 368.7h0M709.4 128.6h0M938.8 356.5h0M1022.8 743.6h0M955.6 687.4h0M525 1017.2h0M163.8 565.9h0M1005.8 626.9h0M983.5 762h0M976.9 662.3h0M943.4 361.3h0M863.7 365.2h0M933.4 392.8h0M979.1 678.1h0M980.7 770.2h0M964.6 368.3h0M946.2 377.2h0M608.7 400.3h0M1024.6 665.8h0M936.6 366.2h0M407.8 811.2h0M949.7 381.3h0M544.2 769.1h0M208.4 530.9h0M680.8 128.5h0M719.5 155.5h0M958.7 363.6h0M329.1 841.2h0M685.4 153.7h0M550 249h0M951.8 373.2h0M554.2 469.1h0M969.8 757.6h0M701 463.6h0M809.8 784.8h0M354 801.5h0M748 174.4h0M960.1 360.6h0M937.2 365.6h0M944.3 374.8h0M367.4 840.5h0M968.9 365.8h0M468.2 863.8h0M552.4 774h0M391.2 778.1h0M388.4 823.7h0M742.3 204.8h0" stroke="#b093e5"/>
<path d="M966.3 676.2h0M606.6 437h0M935.6 357.1h0M946.4 759.8h0M641.7 683.4h0M944.9 746.4h0M609.2 663.3h0M1000.1 757.2h0M946.7 365.6h0M808 309.6h0M294.7 841.2h0M726.9 202.6h0M370.9 782.3h0M948.6 381.7h0M968.4 367.5h0M1008.4 728h0M966.1 374.1h0M542.6 210.4h0M944.5 368.1h0M935.8 355.8h0M961.4 372.8h0M957.9 367.9h0M502.4 882.1h0M936.4 367.6h0M646.4 681.3h0M335.2 843.1h0M749.6 195.6h0M931.7 367.3h0M934.9 356.6h0M315.6 770.1h0M935.4 364.3h0M957.9 363h0M968.8 365.9h0M709 124h0M733.3 161.6h0M606.6 437h0M371.4 785.1h0M383.9 777.2h0M947.7 361.1h0M941.9 376.1h0M964 365.3h0M1009.2 735.6h0M367.8 751.6h0M944.4 776.3h0M984.6 623.7h0M633.3 691.2h0M508.1 878.8h0M945.2 361.6h0M943.9 359h0M943.3 364.1h0M944.9 378.6h0M760.2 217.4h0M472.8 445.4h0M988.8 713.2h0M455.4 451.8h0M374.1 816.4h0M992.9 764.5h0M953.2 381.1h0M937.4 369.1h0M595.4 667.8h0M966.8 369.9h0M942.6 369.3h0M936.8 370.7h0M946.1 368.8h0M188 531.9h0M357.9 775.7h0M952.2 364.6h0M931.5 352.7h0M984.4 687.4h0M970 737.4h0M1014.6 736.4h0M391.4 850.2h0M957.6 750.3h0M618.6 669.8h0M336.3 843.2h0M390.7 784.9h0M576.1 775.4h0M733.4 717.2h0M931 372.5h0M485.3 351.8h0" stroke="#ac8be7"/>
<path d="M632.2 683.5h0M1045.3 700.1h0M608 234.4h0M799 257h0M549.3 773.9h0M731.9 194h0M577.6 224.4h0M957.3 362.6h0M698.7 857.1h0M727 196.9h0M231 527.5h0M460.2 531.9h0M967.5 375.7h0M721.5 208.2h0M806.5 276.8h0M992.3 718.8h0M944.8 370.9h0M806.6 279.6h0M616.1 687.9h0M679.7 136.9h0M167.5 532.2h0M986.4 647.2h0M951.3 380.2h0M956.9 777h0M947 367.7h0M645 243.7h0M941.7 363.3h0M370.6 853.7h0M952.9 376.9h0M944.5 377.2h0M940.3 364.7h0M941.6 366.3h0M807.2 278.8h0M958.5 363.9h0M947 374.3h0M1017 620h0M385.8 850.8h0M971.5 638.3h0M547.9 771.9h0M941.5 369.3h0M959.2 368.8h0M383 734.2h0M485 872.6h0M723.5 850.1h0M739.1 715.1h0" stroke="#a784e9"/>
<path d="M301.4 842.6h0M718.6 937.6h0M944.3 360.9h0M223 538.9h0M951.7 378.1h0M941.4 761.1h0M1016.7 675.9h0M602.1 686.9h0M1055.9 688.9h0M988.4 706.1h0M156.8 552.9h0M821.2 289.8h0M399.2 783.1h0M497.1 514h0M641.6 246.3h0M473.2 872.6h0M298.6 844.9h0M727.5 720.2h0M948.4 374.6h0M624.8 882h0M744.8 217.1h0" stroke="#a17dea"/>
<path d="M649.8 662.2h0M1062.9 652.2h0M955.1 363.6h0M756.8 200.6h0M368.1 793.5h0M960.4 379.1h0M337.4 787.5h0M322.5 768.3h0M994.7 721.3h0M740.8 203.5h0M430.3 545h0M819.8 291.1h0M459.8 455.7h0M962.4 371.5h0" stroke="#9c76ec"/>
<path d="M1039 740.1h0M519.5 537.3h0M676.1 736.4h0M370.3 766.3h0M660 125.9h0M635.6 680.3h0M980.3 684.4h0M606.3 693.3h0M825.3 232h0M649.7 671.4h0" stroke="#966fee"/>
<path d="M743.3 194.6h0M804.8 778.8h0M725.8 206.2h0M1005.1 653.2h0M950.7 377.3h0M631.6 701.4h0M829.4 297.8h0M790.2 218.4h0M570.6 782.1h0M351.9 757.1h0M311.7 836.8h0" stroke="#9068ef"/>
<path d="M632.3 702h0M711.3 845.4h0M674.6 225.5h0M603.1 688.4h0M1001.1 660.3h0M775.4 220.9h0M398.3 802.6h0M961.4 751.7h0M982.3 715.8h0M944.4 745.6h0M305.2 803h0M356.1 758.8h0M486.3 869.4h0M1020.7 748.8h0M574.4 779h0M346.8 799.6h0M309.5 796.4h0M750.7 198.8h0M700 845.8h0" stroke="#8a60f1"/>
<path d="M945.3 372.4h0M602.4 654h0M650.2 703h0" stroke="#744af5"/>
<path d="M772.2 595.4h0" stroke="#6c42f7"/>
<path d="M956.7 378h0" stroke="#0000ff"/>
</g>
<path d="M95.55 50.8V1119.4H1117.8" fill="none" stroke="#000" stroke-width="3.1" stroke-linejoin="miter"/>
<path d="M141.70 1120.9V1124.4M307.45 1120.9V1124.4M473.20 1120.9V1124.4M638.95 1120.9V1124.4M804.70 1120.9V1124.4M970.45 1120.9V1124.4M90.3 277.20H94M90.3 571.30H94M90.3 865.40H94" fill="none" stroke="#000" stroke-width="3.1"/>
<defs><linearGradient id="lg" x1="0" y1="1" x2="0" y2="0"><stop offset="0.000" stop-color="#d3d3d3"/><stop offset="0.050" stop-color="#cfcad6"/><stop offset="0.100" stop-color="#cac0d9"/><stop offset="0.150" stop-color="#c6b7db"/><stop offset="0.200" stop-color="#c1aede"/><stop offset="0.250" stop-color="#bba5e0"/><stop offset="0.300" stop-color="#b69ce3"/><stop offset="0.350" stop-color="#b093e5"/><stop offset="0.400" stop-color="#aa89e7"/><stop offset="0.450" stop-color="#a480ea"/><stop offset="0.500" stop-color="#9d77ec"/><stop offset="0.550" stop-color="#966eee"/><stop offset="0.600" stop-color="#8e65f0"/><stop offset="0.650" stop-color="#855bf2"/><stop offset="0.700" stop-color="#7c51f4"/><stop offset="0.750" stop-color="#7248f6"/><stop offset="0.800" stop-color="#673df8"/><stop offset="0.850" stop-color="#5932fa"/><stop offset="0.900" stop-color="#4926fb"/><stop offset="0.950" stop-color="#3318fd"/><stop offset="1.000" stop-color="#0000ff"/></linearGradient></defs>
<rect x="1130.1" y="547.5" width="15.6" height="76.5" fill="url(#lg)"/>
<path d="M1130.1 624.20h3.1M1142.6 624.20h3.1M1130.1 609.27h3.1M1142.6 609.27h3.1M1130.1 594.34h3.1M1142.6 594.34h3.1M1130.1 579.41h3.1M1142.6 579.41h3.1M1130.1 564.48h3.1M1142.6 564.48h3.1M1130.1 549.55h3.1M1142.6 549.55h3.1" stroke="#fff" stroke-width="0.8" fill="none"/>
<text x="141.70" y="1148.2" text-anchor="middle" font-size="30.5">-15</text>
<text x="307.45" y="1148.2" text-anchor="middle" font-size="30.5">-10</text>
<text x="473.20" y="1148.2" text-anchor="middle" font-size="30.5">-5</text>
<text x="638.95" y="1148.2" text-anchor="middle" font-size="30.5">0</text>
<text x="804.70" y="1148.2" text-anchor="middle" font-size="30.5">5</text>
<text x="970.45" y="1148.2" text-anchor="middle" font-size="30.5">10</text>
<text x="88.3" y="287.90" text-anchor="end" font-size="30.5">10</text>
<text x="88.3" y="582.00" text-anchor="end" font-size="30.5">0</text>
<text x="88.3" y="876.10" text-anchor="end" font-size="30.5">-10</text>
<text x="604" y="1180.5" text-anchor="middle" font-size="29.9">umapNC_1</text>
<text transform="translate(34 585.7) rotate(-90)" text-anchor="middle" font-size="29.9">umapNC_2</text>
<text transform="translate(605.4 36.7) scale(1 1.04)" text-anchor="middle" font-size="33.3" font-weight="bold" stroke-width="0">Jmy</text>
<text x="1153" y="633.70" font-size="25">0.0</text>
<text x="1153" y="618.77" font-size="25">0.5</text>
<text x="1153" y="603.84" font-size="25">1.0</text>
<text x="1153" y="588.91" font-size="25">1.5</text>
<text x="1153" y="573.98" font-size="25">2.0</text>
<text x="1153" y="559.05" font-size="25">2.5</text>
</svg>
</body></html>
